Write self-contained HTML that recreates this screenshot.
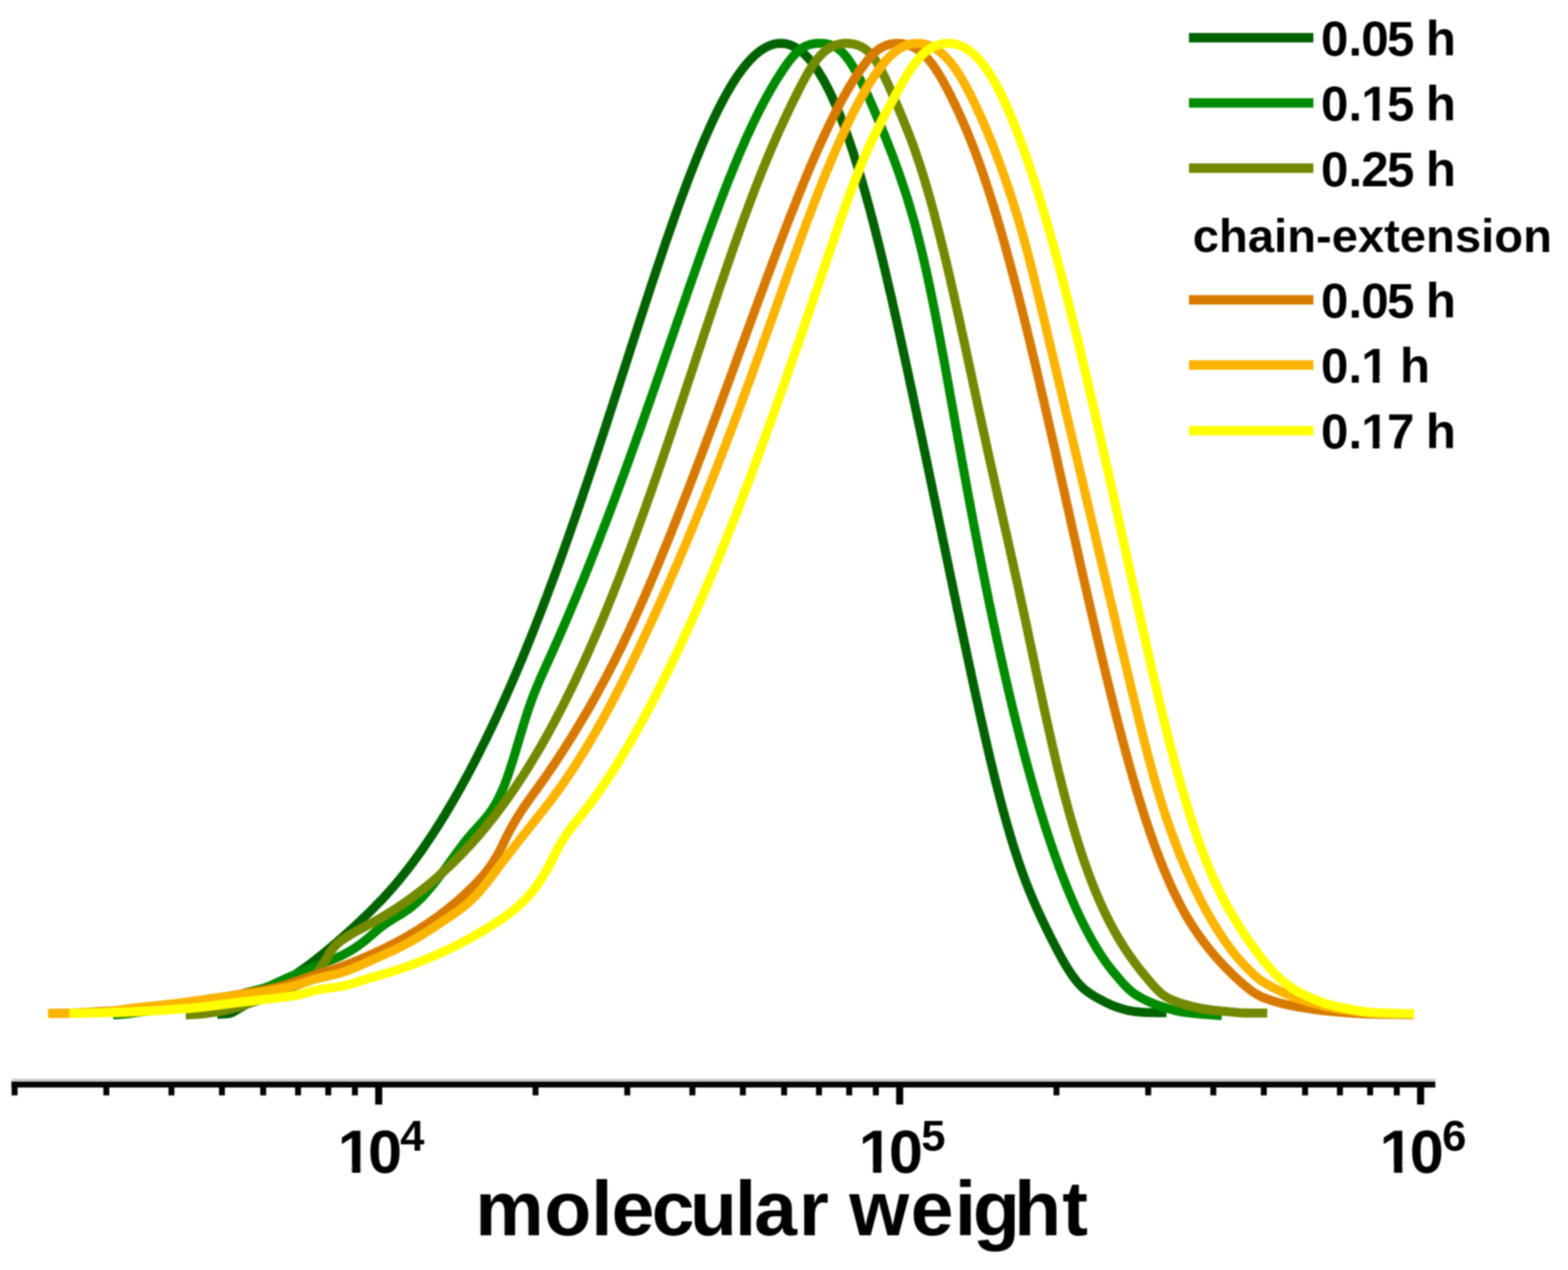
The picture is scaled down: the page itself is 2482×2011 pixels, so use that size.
<!DOCTYPE html>
<html lang="en"><head><meta charset="utf-8"><title>molecular weight distribution</title>
<style>html,body{margin:0;padding:0;background:#fff}body{width:2482px;height:2011px;overflow:hidden}svg{display:block}text{font-family:"Liberation Sans",sans-serif;font-weight:bold;fill:#000}.c{fill:none;stroke-linejoin:round;stroke-linecap:butt;stroke-width:14.3}</style></head><body>
<svg width="2482" height="2011" viewBox="0 0 2482 2011">
<defs><filter id="b" x="-5%" y="-5%" width="110%" height="110%"><feGaussianBlur stdDeviation="1.0"/></filter></defs>
<rect width="2482" height="2011" fill="#fff"/>
<g filter="url(#b)">
<path class="c" stroke="#006400" d="M344 1606L349 1605.9L354 1605.7L359 1605.3L363.9 1604.7L368.6 1602.8L372.9 1600.3L377.1 1597.7L381.5 1595.2L385.8 1592.7L390.1 1590.1L394.4 1587.5L398.6 1584.9L402.8 1582.2L407.1 1579.5L411.3 1576.8L415.5 1574.1L419.7 1571.4L423.9 1568.7L428.1 1566.1L432.4 1563.5L436.7 1560.9L441 1558.4L445.4 1556L449.8 1553.5L454.1 1551.1L458.4 1548.5L462.7 1545.9L466.9 1543.3L471.1 1540.5L475.2 1537.7L479.3 1534.8L483.3 1531.9L487.4 1528.9L491.4 1525.9L495.3 1522.9L499.3 1519.8L503.2 1516.7L507.1 1513.6L511 1510.5L514.9 1507.3L518.8 1504.1L522.6 1500.9L526.4 1497.7L530.2 1494.5L534 1491.2L537.8 1487.9L541.6 1484.6L545.3 1481.3L549.1 1478L552.8 1474.7L556.5 1471.3L560.2 1467.9L563.8 1464.5L567.5 1461.1L571.1 1457.7L574.7 1454.2L578.3 1450.8L581.9 1447.3L585.5 1443.8L589 1440.2L592.5 1436.7L596 1433.1L599.5 1429.5L603 1425.9L606.4 1422.3L609.8 1418.6L613.2 1414.9L616.5 1411.2L619.8 1407.4L623.1 1403.7L626.4 1399.9L629.6 1396.1L632.8 1392.2L636 1388.3L639.1 1384.4L642.2 1380.5L645.3 1376.6L648.3 1372.6L651.4 1368.6L654.4 1364.6L657.3 1360.6L660.3 1356.6L663.2 1352.5L666.1 1348.5L669 1344.4L671.8 1340.3L674.6 1336.1L677.4 1332L680.2 1327.8L683 1323.7L685.7 1319.5L688.4 1315.3L691.1 1311.1L693.8 1306.9L696.5 1302.6L699.1 1298.4L701.8 1294.1L704.4 1289.9L706.9 1285.6L709.5 1281.3L712.1 1277L714.6 1272.7L717.1 1268.4L719.6 1264L722.1 1259.7L724.6 1255.3L727 1251L729.5 1246.6L731.9 1242.3L734.3 1237.9L736.7 1233.5L739.1 1229.1L741.4 1224.7L743.8 1220.3L746.1 1215.8L748.5 1211.4L750.8 1207L753.1 1202.5L755.3 1198.1L757.6 1193.6L759.9 1189.2L762.1 1184.7L764.3 1180.2L766.6 1175.7L768.8 1171.3L771 1166.8L773.1 1162.3L775.3 1157.8L777.5 1153.3L779.6 1148.7L781.7 1144.2L783.9 1139.7L786 1135.2L788.1 1130.6L790.2 1126.1L792.3 1121.5L794.3 1117L796.4 1112.4L798.4 1107.9L800.5 1103.3L802.5 1098.7L804.5 1094.2L806.5 1089.6L808.5 1085L810.5 1080.4L812.5 1075.8L814.5 1071.2L816.5 1066.6L818.4 1062L820.4 1057.4L822.3 1052.8L824.2 1048.2L826.2 1043.6L828.1 1039L830 1034.3L831.9 1029.7L833.8 1025.1L835.6 1020.5L837.5 1015.8L839.4 1011.2L841.2 1006.5L843.1 1001.9L844.9 997.3L846.8 992.6L848.6 988L850.4 983.3L852.3 978.6L854.1 974L855.9 969.3L857.7 964.6L859.5 960L861.2 955.3L863 950.6L864.8 946L866.6 941.3L868.3 936.6L870.1 931.9L871.8 927.2L873.6 922.5L875.3 917.9L877 913.2L878.8 908.5L880.5 903.8L882.2 899.1L883.9 894.4L885.6 889.7L887.3 885L889 880.3L890.7 875.6L892.4 870.9L894 866.2L895.7 861.4L897.4 856.7L899.1 852L900.7 847.3L902.4 842.6L904 837.9L905.7 833.1L907.3 828.4L909 823.7L910.6 819L912.2 814.2L913.8 809.5L915.5 804.8L917.1 800.1L918.7 795.3L920.3 790.6L921.9 785.9L923.5 781.1L925.1 776.4L926.7 771.7L928.3 766.9L929.9 762.2L931.5 757.4L933.1 752.7L934.7 747.9L936.3 743.2L937.8 738.5L939.4 733.7L941 729L942.6 724.2L944.1 719.5L945.7 714.7L947.3 710L948.8 705.2L950.4 700.5L951.9 695.7L953.5 691L955.1 686.2L956.6 681.5L958.2 676.7L959.7 672L961.3 667.2L962.8 662.5L964.3 657.7L965.9 652.9L967.4 648.2L969 643.4L970.5 638.7L972 633.9L973.6 629.2L975.1 624.4L976.7 619.6L978.2 614.9L979.7 610.1L981.3 605.4L982.8 600.6L984.3 595.8L985.9 591.1L987.4 586.3L988.9 581.6L990.5 576.8L992 572L993.5 567.3L995 562.5L996.6 557.8L998.1 553L999.6 548.2L1001.2 543.5L1002.7 538.7L1004.3 534L1005.8 529.2L1007.3 524.5L1008.9 519.7L1010.4 514.9L1011.9 510.2L1013.5 505.4L1015 500.7L1016.6 495.9L1018.1 491.2L1019.7 486.4L1021.2 481.7L1022.8 476.9L1024.3 472.2L1025.9 467.4L1027.4 462.6L1029 457.9L1030.6 453.1L1032.1 448.4L1033.7 443.7L1035.3 438.9L1036.8 434.2L1038.4 429.4L1040 424.7L1041.6 419.9L1043.2 415.2L1044.8 410.5L1046.4 405.7L1048 401L1049.6 396.2L1051.2 391.5L1052.8 386.8L1054.4 382L1056 377.3L1057.7 372.6L1059.3 367.9L1061 363.1L1062.6 358.4L1064.3 353.7L1065.9 349L1067.6 344.3L1069.2 339.6L1070.9 334.8L1072.6 330.1L1074.3 325.4L1076 320.7L1077.7 316L1079.4 311.3L1081.2 306.6L1082.9 302L1084.6 297.3L1086.4 292.6L1088.2 287.9L1089.9 283.2L1091.7 278.6L1093.5 273.9L1095.3 269.2L1097.1 264.6L1099 259.9L1100.8 255.3L1102.7 250.6L1104.6 246L1106.5 241.4L1108.4 236.8L1110.3 232.1L1112.2 227.5L1114.2 222.9L1116.1 218.3L1118.1 213.8L1120.2 209.2L1122.2 204.6L1124.2 200.1L1126.3 195.5L1128.4 191L1130.6 186.4L1132.7 181.9L1134.9 177.4L1137.1 173L1139.4 168.5L1141.7 164L1144 159.6L1146.3 155.2L1148.7 150.8L1151.2 146.5L1153.7 142.1L1156.2 137.8L1158.8 133.5L1161.4 129.3L1164.1 125.1L1166.9 120.9L1169.8 116.8L1172.7 112.8L1175.7 108.8L1178.8 104.8L1182 101L1185.3 97.2L1188.7 93.6L1192.2 90L1195.9 86.6L1199.7 83.4L1203.7 80.4L1207.8 77.6L1212.1 75.1L1216.6 72.9L1221.3 71.1L1226.1 69.7L1231 68.9L1236 68.6L1241 68.9L1245.9 69.8L1250.7 71.2L1255.3 73.1L1259.8 75.4L1264 78.1L1268 81.1L1271.8 84.4L1275.4 87.8L1278.9 91.4L1282.2 95.2L1285.3 99L1288.4 103L1291.3 107.1L1294.1 111.2L1296.8 115.4L1299.4 119.7L1302 124L1304.4 128.3L1306.8 132.7L1309.1 137.2L1311.4 141.6L1313.6 146.1L1315.7 150.6L1317.8 155.1L1319.9 159.7L1321.9 164.3L1323.9 168.9L1325.8 173.5L1327.7 178.1L1329.6 182.8L1331.4 187.4L1333.2 192.1L1335 196.7L1336.7 201.4L1338.4 206.1L1340.1 210.8L1341.8 215.6L1343.4 220.3L1345 225L1346.6 229.7L1348.2 234.5L1349.8 239.2L1351.3 244L1352.8 248.8L1354.3 253.5L1355.8 258.3L1357.3 263.1L1358.7 267.9L1360.2 272.7L1361.6 277.5L1363 282.3L1364.4 287.1L1365.8 291.9L1367.2 296.7L1368.5 301.5L1369.9 306.3L1371.2 311.1L1372.5 315.9L1373.9 320.8L1375.2 325.6L1376.5 330.4L1377.8 335.2L1379 340.1L1380.3 344.9L1381.6 349.7L1382.8 354.6L1384.1 359.4L1385.3 364.3L1386.5 369.1L1387.7 374L1389 378.8L1390.2 383.7L1391.4 388.5L1392.6 393.4L1393.8 398.2L1394.9 403.1L1396.1 408L1397.3 412.8L1398.5 417.7L1399.6 422.5L1400.8 427.4L1401.9 432.3L1403.1 437.1L1404.2 442L1405.3 446.9L1406.5 451.7L1407.6 456.6L1408.7 461.5L1409.9 466.4L1411 471.2L1412.1 476.1L1413.2 481L1414.3 485.9L1415.4 490.7L1416.5 495.6L1417.6 500.5L1418.7 505.4L1419.8 510.3L1420.8 515.1L1421.9 520L1423 524.9L1424.1 529.8L1425.2 534.7L1426.2 539.5L1427.3 544.4L1428.4 549.3L1429.4 554.2L1430.5 559.1L1431.6 564L1432.6 568.9L1433.7 573.7L1434.7 578.6L1435.8 583.5L1436.8 588.4L1437.9 593.3L1438.9 598.2L1440 603.1L1441 608L1442.1 612.9L1443.1 617.7L1444.2 622.6L1445.2 627.5L1446.2 632.4L1447.3 637.3L1448.3 642.2L1449.3 647.1L1450.4 652L1451.4 656.9L1452.4 661.8L1453.5 666.7L1454.5 671.6L1455.5 676.4L1456.6 681.3L1457.6 686.2L1458.6 691.1L1459.7 696L1460.7 700.9L1461.7 705.8L1462.7 710.7L1463.8 715.6L1464.8 720.5L1465.8 725.4L1466.8 730.3L1467.8 735.2L1468.9 740.1L1469.9 745L1470.9 749.9L1471.9 754.8L1472.9 759.6L1474 764.5L1475 769.4L1476 774.3L1477 779.2L1478 784.1L1479 789L1480.1 793.9L1481.1 798.8L1482.1 803.7L1483.1 808.6L1484.1 813.5L1485.1 818.4L1486.1 823.3L1487.2 828.2L1488.2 833.1L1489.2 838L1490.2 842.9L1491.2 847.8L1492.2 852.7L1493.2 857.6L1494.3 862.5L1495.3 867.4L1496.3 872.2L1497.3 877.1L1498.3 882L1499.3 886.9L1500.4 891.8L1501.4 896.7L1502.4 901.6L1503.4 906.5L1504.4 911.4L1505.4 916.3L1506.5 921.2L1507.5 926.1L1508.5 931L1509.5 935.9L1510.5 940.8L1511.6 945.7L1512.6 950.6L1513.6 955.5L1514.6 960.4L1515.6 965.3L1516.7 970.2L1517.7 975L1518.7 979.9L1519.8 984.8L1520.8 989.7L1521.8 994.6L1522.8 999.5L1523.9 1004.4L1524.9 1009.3L1525.9 1014.2L1527 1019.1L1528 1024L1529.1 1028.9L1530.1 1033.7L1531.1 1038.6L1532.2 1043.5L1533.2 1048.4L1534.3 1053.3L1535.3 1058.2L1536.4 1063.1L1537.4 1068L1538.5 1072.9L1539.5 1077.7L1540.6 1082.6L1541.7 1087.5L1542.7 1092.4L1543.8 1097.3L1544.8 1102.2L1545.9 1107.1L1547 1111.9L1548.1 1116.8L1549.1 1121.7L1550.2 1126.6L1551.3 1131.5L1552.4 1136.4L1553.5 1141.2L1554.6 1146.1L1555.7 1151L1556.8 1155.9L1557.9 1160.7L1559 1165.6L1560.1 1170.5L1561.2 1175.4L1562.3 1180.2L1563.5 1185.1L1564.6 1190L1565.8 1194.8L1566.9 1199.7L1568.1 1204.6L1569.2 1209.4L1570.4 1214.3L1571.6 1219.2L1572.7 1224L1573.9 1228.9L1575.1 1233.7L1576.3 1238.6L1577.6 1243.4L1578.8 1248.3L1580 1253.1L1581.3 1258L1582.5 1262.8L1583.8 1267.6L1585.1 1272.5L1586.3 1277.3L1587.6 1282.1L1589 1287L1590.3 1291.8L1591.6 1296.6L1593 1301.4L1594.3 1306.2L1595.7 1311L1597.1 1315.8L1598.5 1320.6L1599.9 1325.4L1601.4 1330.2L1602.8 1335L1604.3 1339.8L1605.8 1344.5L1607.3 1349.3L1608.9 1354.1L1610.4 1358.8L1612 1363.6L1613.6 1368.3L1615.3 1373L1616.9 1377.7L1618.6 1382.4L1620.3 1387.1L1622 1391.8L1623.8 1396.5L1625.6 1401.2L1627.5 1405.8L1629.3 1410.5L1631.2 1415.1L1633.2 1419.7L1635.1 1424.3L1637.1 1428.9L1639.1 1433.5L1641.1 1438L1643.2 1442.6L1645.3 1447.1L1647.4 1451.7L1649.5 1456.2L1651.7 1460.7L1653.8 1465.2L1656 1469.7L1658.2 1474.2L1660.4 1478.7L1662.7 1483.2L1664.9 1487.6L1667.2 1492.1L1669.5 1496.5L1671.8 1501L1674.1 1505.4L1676.4 1509.8L1678.8 1514.2L1681.2 1518.6L1683.7 1522.9L1686.2 1527.3L1688.8 1531.5L1691.5 1535.8L1694.2 1540L1697 1544.1L1700 1548.1L1703 1552.1L1706.2 1556L1709.5 1559.7L1713 1563.3L1716.7 1566.6L1720.6 1569.7L1724.7 1572.6L1728.9 1575.4L1733.1 1578L1737.5 1580.5L1741.9 1582.9L1746.3 1585.2L1750.7 1587.5L1755.2 1589.6L1759.8 1591.7L1764.4 1593.5L1769.2 1595.1L1773.9 1596.7L1778.7 1598.1L1783.6 1599.4L1788.4 1600.4L1793.4 1601.3L1798.3 1601.8L1803.3 1602.4L1808.3 1602.8L1813.3 1603.2L1818.3 1603.4L1823.3 1603.4L1828.3 1603.4L1833.3 1603.5L1838.3 1603.5L1843.3 1603.5L1846.5 1603.5"/>
<path class="c" stroke="#008B00" d="M179 1607L184 1606.8L189 1606.4L194 1606.1L199 1605.6L203.9 1605.1L208.9 1604.4L213.8 1603.7L218.8 1603L223.7 1602.3L228.7 1601.7L233.7 1601.1L238.6 1600.5L243.6 1600L248.6 1599.5L253.5 1599.1L258.5 1598.6L263.5 1598.1L268.5 1597.7L273.5 1597.2L278.4 1596.7L283.4 1596.1L288.4 1595.6L293.3 1594.9L298.3 1594.2L303.2 1593.5L308.2 1592.7L313.1 1591.7L318 1590.7L322.8 1589.6L327.7 1588.5L332.6 1587.3L337.4 1586.1L342.3 1584.9L347.1 1583.7L352 1582.5L356.8 1581.2L361.6 1579.9L366.5 1578.5L371.3 1577.2L376.1 1575.8L380.9 1574.4L385.7 1573L390.5 1571.7L395.3 1570.4L400.2 1569.2L405 1568L409.9 1566.8L414.7 1565.5L419.5 1564L424.2 1562.3L428.8 1560.4L433.4 1558.3L437.9 1556.2L442.4 1554.1L447 1552L451.5 1549.9L456.1 1547.9L460.7 1545.9L465.3 1544L469.9 1542.2L474.6 1540.3L479.2 1538.4L483.9 1536.6L488.5 1534.8L493.2 1532.9L497.8 1531.1L502.5 1529.2L507.1 1527.4L511.8 1525.6L516.4 1523.7L521.1 1521.8L525.7 1519.9L530.3 1517.9L534.8 1515.9L539.4 1513.8L543.8 1511.5L548.3 1509.2L552.6 1506.8L556.9 1504.2L561.1 1501.6L565.3 1498.8L569.4 1495.9L573.4 1492.9L577.3 1489.8L581.2 1486.6L585 1483.4L588.8 1480.1L592.5 1476.8L596.3 1473.5L600.1 1470.3L604.1 1467.3L608.1 1464.3L612.2 1461.5L616.4 1458.8L620.7 1456.1L624.9 1453.5L629.2 1450.9L633.5 1448.3L637.7 1445.7L641.9 1443L646 1440.1L650.1 1437.1L654 1434L657.7 1430.7L661.4 1427.3L665 1423.9L668.5 1420.3L671.9 1416.6L675.3 1412.9L678.5 1409.1L681.8 1405.3L684.9 1401.5L688.1 1397.6L691.1 1393.6L694.2 1389.6L697.2 1385.7L700.2 1381.6L703.1 1377.6L706.1 1373.6L709 1369.5L712 1365.5L714.9 1361.4L717.8 1357.4L720.7 1353.3L723.7 1349.3L726.7 1345.3L729.7 1341.3L732.7 1337.3L735.7 1333.3L738.9 1329.4L742 1325.6L745.3 1321.8L748.6 1318L752 1314.3L755.3 1310.6L758.7 1306.9L762.1 1303.2L765.3 1299.5L768.6 1295.6L771.7 1291.7L774.7 1287.7L777.6 1283.6L780.3 1279.5L783 1275.2L785.5 1270.9L787.9 1266.5L790.1 1262L792.3 1257.5L794.3 1253L796.3 1248.4L798.2 1243.7L800 1239.1L801.7 1234.4L803.4 1229.7L805 1224.9L806.6 1220.2L808.1 1215.4L809.7 1210.7L811.2 1205.9L812.7 1201.1L814.1 1196.4L815.6 1191.6L817 1186.8L818.4 1182L819.9 1177.2L821.3 1172.4L822.7 1167.6L824.1 1162.8L825.6 1158L827 1153.2L828.4 1148.5L829.9 1143.7L831.4 1138.9L832.9 1134.1L834.4 1129.4L836 1124.6L837.6 1119.9L839.2 1115.2L840.9 1110.5L842.6 1105.8L844.4 1101.1L846.2 1096.4L848.1 1091.8L850 1087.1L851.9 1082.5L853.8 1077.9L855.8 1073.3L857.9 1068.8L859.9 1064.2L862 1059.7L864 1055.1L866.1 1050.6L868.2 1046L870.2 1041.4L872.3 1036.9L874.3 1032.3L876.4 1027.8L878.4 1023.2L880.4 1018.6L882.5 1014.1L884.5 1009.5L886.5 1004.9L888.5 1000.3L890.5 995.7L892.5 991.1L894.4 986.6L896.4 982L898.4 977.4L900.3 972.8L902.3 968.2L904.2 963.6L906.2 958.9L908.1 954.3L910 949.7L912 945.1L913.9 940.5L915.8 935.9L917.7 931.2L919.6 926.6L921.5 922L923.4 917.4L925.3 912.7L927.1 908.1L929 903.5L930.9 898.8L932.7 894.2L934.6 889.5L936.4 884.9L938.3 880.2L940.1 875.6L941.9 870.9L943.8 866.3L945.6 861.6L947.4 857L949.2 852.3L951 847.6L952.8 843L954.6 838.3L956.4 833.6L958.2 829L960 824.3L961.8 819.6L963.6 815L965.3 810.3L967.1 805.6L968.9 800.9L970.6 796.2L972.4 791.6L974.1 786.9L975.9 782.2L977.6 777.5L979.3 772.8L981.1 768.1L982.8 763.4L984.5 758.7L986.3 754.1L988 749.4L989.7 744.7L991.4 740L993.1 735.3L994.8 730.6L996.5 725.9L998.2 721.2L999.9 716.5L1001.6 711.8L1003.3 707L1005 702.3L1006.7 697.6L1008.3 692.9L1010 688.2L1011.7 683.5L1013.4 678.8L1015 674.1L1016.7 669.4L1018.4 664.6L1020 659.9L1021.7 655.2L1023.3 650.5L1025 645.8L1026.6 641.1L1028.3 636.3L1029.9 631.6L1031.6 626.9L1033.2 622.2L1034.9 617.4L1036.5 612.7L1038.2 608L1039.8 603.3L1041.4 598.6L1043.1 593.8L1044.7 589.1L1046.3 584.4L1048 579.7L1049.6 574.9L1051.2 570.2L1052.9 565.5L1054.5 560.8L1056.1 556L1057.8 551.3L1059.4 546.6L1061 541.8L1062.7 537.1L1064.3 532.4L1065.9 527.7L1067.6 522.9L1069.2 518.2L1070.8 513.5L1072.5 508.8L1074.1 504L1075.7 499.3L1077.4 494.6L1079 489.9L1080.6 485.1L1082.3 480.4L1083.9 475.7L1085.6 471L1087.2 466.2L1088.8 461.5L1090.5 456.8L1092.1 452.1L1093.8 447.4L1095.4 442.6L1097.1 437.9L1098.8 433.2L1100.4 428.5L1102.1 423.8L1103.7 419.1L1105.4 414.4L1107.1 409.6L1108.8 404.9L1110.4 400.2L1112.1 395.5L1113.8 390.8L1115.5 386.1L1117.2 381.4L1118.9 376.7L1120.6 372L1122.3 367.3L1124 362.6L1125.8 357.9L1127.5 353.2L1129.2 348.5L1131 343.8L1132.7 339.2L1134.5 334.5L1136.2 329.8L1138 325.1L1139.8 320.4L1141.5 315.8L1143.3 311.1L1145.1 306.4L1146.9 301.8L1148.7 297.1L1150.6 292.5L1152.4 287.8L1154.2 283.2L1156.1 278.5L1158 273.9L1159.8 269.2L1161.7 264.6L1163.6 260L1165.5 255.4L1167.5 250.7L1169.4 246.1L1171.3 241.5L1173.3 236.9L1175.3 232.3L1177.3 227.8L1179.3 223.2L1181.3 218.6L1183.4 214.1L1185.5 209.5L1187.6 205L1189.7 200.4L1191.8 195.9L1194 191.4L1196.2 186.9L1198.4 182.4L1200.6 177.9L1202.9 173.5L1205.2 169.1L1207.5 164.6L1209.8 160.2L1212.2 155.8L1214.6 151.4L1217.1 147.1L1219.5 142.7L1222 138.4L1224.6 134.1L1227.1 129.8L1229.7 125.5L1232.4 121.3L1235.1 117.1L1237.8 112.9L1240.6 108.7L1243.4 104.6L1246.3 100.5L1249.3 96.5L1252.4 92.6L1255.6 88.8L1259 85.1L1262.6 81.6L1266.4 78.4L1270.5 75.5L1274.9 73.1L1279.5 71.3L1284.4 69.9L1289.3 69.1L1294.3 68.7L1299.3 68.6L1304.2 68.9L1309.2 69.6L1314.1 70.8L1318.8 72.5L1323.2 74.8L1327.3 77.6L1331.2 80.8L1334.7 84.3L1338.1 88L1341.2 92L1344.1 96L1346.9 100.2L1349.6 104.4L1352.1 108.7L1354.6 113L1357.1 117.4L1359.4 121.8L1361.7 126.2L1364 130.7L1366.1 135.2L1368.3 139.7L1370.4 144.2L1372.5 148.8L1374.6 153.3L1376.6 157.9L1378.6 162.5L1380.6 167.1L1382.6 171.7L1384.5 176.3L1386.5 180.9L1388.4 185.5L1390.3 190.1L1392.3 194.7L1394.2 199.3L1396.1 203.9L1397.9 208.6L1399.8 213.2L1401.7 217.9L1403.5 222.5L1405.4 227.2L1407.2 231.8L1409 236.5L1410.8 241.1L1412.6 245.8L1414.3 250.5L1416.1 255.2L1417.8 259.9L1419.5 264.6L1421.2 269.3L1422.8 274L1424.5 278.7L1426.1 283.4L1427.7 288.2L1429.3 292.9L1430.9 297.7L1432.4 302.4L1434 307.2L1435.5 311.9L1437 316.7L1438.4 321.5L1439.9 326.3L1441.3 331.1L1442.7 335.9L1444.1 340.7L1445.5 345.5L1446.8 350.3L1448.2 355.1L1449.5 359.9L1450.8 364.8L1452 369.6L1453.3 374.5L1454.5 379.3L1455.7 384.1L1456.9 389L1458.1 393.9L1459.3 398.7L1460.4 403.6L1461.6 408.5L1462.7 413.3L1463.8 418.2L1464.9 423.1L1466 428L1467.1 432.8L1468.1 437.7L1469.2 442.6L1470.2 447.5L1471.3 452.4L1472.3 457.3L1473.3 462.2L1474.3 467.1L1475.3 472L1476.3 476.9L1477.3 481.8L1478.3 486.7L1479.3 491.6L1480.2 496.5L1481.2 501.4L1482.1 506.3L1483.1 511.2L1484 516.1L1485 521L1485.9 526L1486.8 530.9L1487.8 535.8L1488.7 540.7L1489.6 545.6L1490.5 550.5L1491.4 555.4L1492.3 560.4L1493.3 565.3L1494.2 570.2L1495.1 575.1L1496 580L1496.8 584.9L1497.7 589.9L1498.6 594.8L1499.5 599.7L1500.4 604.6L1501.3 609.5L1502.2 614.5L1503.1 619.4L1503.9 624.3L1504.8 629.2L1505.7 634.2L1506.6 639.1L1507.5 644L1508.3 648.9L1509.2 653.8L1510.1 658.8L1511 663.7L1511.8 668.6L1512.7 673.5L1513.6 678.5L1514.5 683.4L1515.4 688.3L1516.2 693.2L1517.1 698.1L1518 703.1L1518.9 708L1519.8 712.9L1520.7 717.8L1521.5 722.8L1522.4 727.7L1523.3 732.6L1524.2 737.5L1525.1 742.4L1526 747.3L1526.9 752.3L1527.8 757.2L1528.7 762.1L1529.6 767L1530.5 771.9L1531.4 776.9L1532.3 781.8L1533.2 786.7L1534.2 791.6L1535.1 796.5L1536 801.4L1536.9 806.4L1537.8 811.3L1538.7 816.2L1539.7 821.1L1540.6 826L1541.5 830.9L1542.5 835.8L1543.4 840.7L1544.3 845.7L1545.3 850.6L1546.2 855.5L1547.2 860.4L1548.1 865.3L1549.1 870.2L1550 875.1L1551 880L1552 884.9L1552.9 889.8L1553.9 894.7L1554.9 899.6L1555.8 904.5L1556.8 909.4L1557.8 914.4L1558.8 919.3L1559.7 924.2L1560.7 929.1L1561.7 934L1562.7 938.9L1563.7 943.8L1564.7 948.7L1565.7 953.6L1566.7 958.4L1567.8 963.3L1568.8 968.2L1569.8 973.1L1570.8 978L1571.8 982.9L1572.9 987.8L1573.9 992.7L1575 997.6L1576 1002.5L1577.1 1007.4L1578.1 1012.3L1579.2 1017.1L1580.2 1022L1581.3 1026.9L1582.4 1031.8L1583.4 1036.7L1584.5 1041.6L1585.6 1046.4L1586.7 1051.3L1587.8 1056.2L1588.9 1061.1L1590 1066L1591.1 1070.8L1592.2 1075.7L1593.4 1080.6L1594.5 1085.5L1595.6 1090.3L1596.7 1095.2L1597.9 1100.1L1599 1104.9L1600.2 1109.8L1601.4 1114.7L1602.5 1119.5L1603.7 1124.4L1604.9 1129.2L1606.1 1134.1L1607.3 1138.9L1608.5 1143.8L1609.7 1148.7L1610.9 1153.5L1612.1 1158.4L1613.3 1163.2L1614.5 1168L1615.8 1172.9L1617 1177.7L1618.3 1182.6L1619.6 1187.4L1620.8 1192.2L1622.1 1197.1L1623.4 1201.9L1624.7 1206.7L1626 1211.6L1627.3 1216.4L1628.6 1221.2L1630 1226L1631.3 1230.9L1632.6 1235.7L1634 1240.5L1635.4 1245.3L1636.7 1250.1L1638.1 1254.9L1639.5 1259.7L1640.9 1264.5L1642.4 1269.3L1643.8 1274.1L1645.2 1278.9L1646.7 1283.7L1648.1 1288.4L1649.6 1293.2L1651.1 1298L1652.6 1302.8L1654.1 1307.5L1655.6 1312.3L1657.2 1317L1658.7 1321.8L1660.3 1326.5L1661.9 1331.3L1663.5 1336L1665.1 1340.8L1666.7 1345.5L1668.3 1350.2L1670 1354.9L1671.7 1359.6L1673.4 1364.4L1675.1 1369L1676.8 1373.7L1678.5 1378.4L1680.3 1383.1L1682.1 1387.8L1683.9 1392.4L1685.7 1397.1L1687.6 1401.7L1689.4 1406.4L1691.3 1411L1693.2 1415.6L1695.2 1420.2L1697.1 1424.8L1699.1 1429.4L1701.1 1434L1703.2 1438.6L1705.3 1443.1L1707.4 1447.6L1709.5 1452.2L1711.7 1456.7L1713.9 1461.2L1716.1 1465.6L1718.4 1470.1L1720.7 1474.5L1723.1 1478.9L1725.4 1483.3L1727.9 1487.7L1730.4 1492L1732.9 1496.3L1735.4 1500.6L1738.1 1504.9L1740.7 1509.1L1743.5 1513.3L1746.2 1517.5L1749.1 1521.6L1752 1525.6L1755 1529.7L1758 1533.6L1761.1 1537.6L1764.3 1541.4L1767.5 1545.2L1770.8 1549L1774 1552.8L1777.3 1556.6L1780.7 1560.3L1784.2 1563.9L1787.8 1567.3L1791.6 1570.5L1795.6 1573.5L1799.8 1576.3L1804.1 1578.8L1808.5 1581.2L1813 1583.5L1817.5 1585.6L1822.1 1587.6L1826.7 1589.5L1831.4 1591.2L1836.1 1592.9L1840.9 1594.4L1845.7 1595.9L1850.4 1597.3L1855.3 1598.7L1860.1 1600L1864.9 1601.2L1869.8 1602.2L1874.8 1603L1879.7 1603.6L1884.7 1604.2L1889.7 1604.7L1894.6 1605.1L1899.6 1605.6L1904.6 1606L1909.6 1606.4L1914.6 1606.8L1919.6 1607.1L1924.6 1607.5L1929.5 1607.8L1934 1608.0"/>
<path class="c" stroke="#718A00" d="M294 1607L299 1606.9L304 1606.7L309 1606.4L314 1606L319 1605.6L323.9 1605.1L328.9 1604.5L333.8 1603.7L338.8 1602.9L343.7 1602.1L348.6 1601.1L353.5 1600.1L358.4 1599L363.2 1597.9L368.1 1596.7L372.9 1595.4L377.8 1594.1L382.6 1592.7L387.4 1591.3L392.1 1589.8L396.9 1588.3L401.6 1586.7L406.4 1585.1L411.1 1583.4L415.7 1581.6L420.4 1579.8L425.1 1578L429.7 1576.2L434.4 1574.3L439 1572.5L443.6 1570.6L448.3 1568.7L452.9 1566.8L457.6 1565.1L462.3 1563.3L467 1561.6L471.7 1559.8L476.3 1558L480.9 1556L485.4 1553.9L489.8 1551.4L494 1548.7L497.8 1545.5L501.2 1541.9L504.4 1538L507.2 1533.9L510 1529.7L512.5 1525.4L515 1521.1L517.5 1516.7L520.1 1512.4L522.7 1508.2L525.5 1504L528.6 1500.1L532 1496.5L535.7 1493.1L539.6 1490L543.7 1487.1L547.9 1484.3L552.1 1481.7L556.4 1479.1L560.7 1476.6L565.1 1474.1L569.5 1471.8L573.9 1469.4L578.3 1467.1L582.7 1464.7L587.1 1462.3L591.5 1459.9L595.8 1457.4L600.1 1454.9L604.4 1452.4L608.7 1449.8L613 1447.2L617.3 1444.6L621.5 1441.9L625.7 1439.2L629.9 1436.4L634 1433.7L638.2 1430.9L642.3 1428L646.4 1425.1L650.4 1422.2L654.5 1419.3L658.5 1416.3L662.5 1413.3L666.5 1410.3L670.4 1407.2L674.3 1404.1L678.2 1400.9L682.1 1397.7L685.9 1394.5L689.7 1391.3L693.5 1388L697.2 1384.7L700.9 1381.4L704.6 1378L708.3 1374.6L712 1371.2L715.6 1367.7L719.1 1364.2L722.7 1360.7L726.2 1357.2L729.7 1353.6L733.2 1350L736.6 1346.4L740.1 1342.7L743.4 1339L746.8 1335.3L750.1 1331.6L753.5 1327.9L756.7 1324.1L760 1320.3L763.2 1316.5L766.4 1312.6L769.6 1308.8L772.7 1304.9L775.9 1301L779 1297.1L782.1 1293.1L785.1 1289.2L788.1 1285.2L791.1 1281.2L794.1 1277.2L797.1 1273.2L800 1269.1L802.9 1265L805.8 1261L808.7 1256.9L811.5 1252.7L814.3 1248.6L817.1 1244.5L819.9 1240.3L822.6 1236.1L825.4 1232L828.1 1227.8L830.8 1223.5L833.5 1219.3L836.1 1215.1L838.8 1210.8L841.4 1206.6L844 1202.3L846.5 1198L849.1 1193.7L851.6 1189.4L854.2 1185.1L856.7 1180.8L859.1 1176.4L861.6 1172.1L864.1 1167.7L866.5 1163.4L868.9 1159L871.3 1154.6L873.7 1150.2L876.1 1145.8L878.4 1141.4L880.8 1137L883.1 1132.5L885.4 1128.1L887.7 1123.7L890 1119.2L892.3 1114.8L894.5 1110.3L896.8 1105.8L899 1101.3L901.2 1096.9L903.4 1092.4L905.6 1087.9L907.8 1083.4L909.9 1078.9L912.1 1074.4L914.2 1069.8L916.3 1065.3L918.4 1060.8L920.5 1056.2L922.6 1051.7L924.7 1047.1L926.8 1042.6L928.8 1038L930.9 1033.5L932.9 1028.9L934.9 1024.3L937 1019.8L939 1015.2L941 1010.6L942.9 1006L944.9 1001.4L946.9 996.8L948.8 992.2L950.8 987.6L952.7 983L954.7 978.4L956.6 973.8L958.5 969.1L960.4 964.5L962.3 959.9L964.2 955.3L966 950.6L967.9 946L969.8 941.4L971.6 936.7L973.5 932.1L975.3 927.4L977.1 922.8L979 918.1L980.8 913.5L982.6 908.8L984.4 904.1L986.2 899.5L988 894.8L989.8 890.1L991.6 885.4L993.3 880.8L995.1 876.1L996.8 871.4L998.6 866.7L1000.3 862L1002.1 857.4L1003.8 852.7L1005.6 848L1007.3 843.3L1009 838.6L1010.7 833.9L1012.4 829.2L1014.1 824.5L1015.8 819.8L1017.5 815.1L1019.2 810.4L1020.9 805.7L1022.6 801L1024.3 796.3L1025.9 791.5L1027.6 786.8L1029.3 782.1L1030.9 777.4L1032.6 772.7L1034.2 768L1035.9 763.2L1037.5 758.5L1039.2 753.8L1040.8 749.1L1042.4 744.3L1044.1 739.6L1045.7 734.9L1047.3 730.2L1048.9 725.4L1050.6 720.7L1052.2 716L1053.8 711.2L1055.4 706.5L1057 701.8L1058.6 697L1060.2 692.3L1061.8 687.6L1063.4 682.8L1065 678.1L1066.6 673.4L1068.2 668.6L1069.8 663.9L1071.4 659.1L1073 654.4L1074.6 649.7L1076.2 644.9L1077.7 640.2L1079.3 635.4L1080.9 630.7L1082.5 625.9L1084.1 621.2L1085.6 616.5L1087.2 611.7L1088.8 607L1090.4 602.2L1092 597.5L1093.5 592.7L1095.1 588L1096.7 583.2L1098.3 578.5L1099.8 573.7L1101.4 569L1103 564.3L1104.5 559.5L1106.1 554.8L1107.7 550L1109.3 545.3L1110.8 540.5L1112.4 535.8L1114 531L1115.6 526.3L1117.2 521.5L1118.7 516.8L1120.3 512.1L1121.9 507.3L1123.5 502.6L1125.1 497.8L1126.7 493.1L1128.2 488.3L1129.8 483.6L1131.4 478.9L1133 474.1L1134.6 469.4L1136.2 464.7L1137.8 459.9L1139.4 455.2L1141 450.4L1142.6 445.7L1144.3 441L1145.9 436.2L1147.5 431.5L1149.1 426.8L1150.7 422.1L1152.4 417.3L1154 412.6L1155.6 407.9L1157.3 403.2L1158.9 398.4L1160.6 393.7L1162.2 389L1163.9 384.3L1165.6 379.6L1167.2 374.9L1168.9 370.2L1170.6 365.4L1172.3 360.7L1174 356L1175.7 351.3L1177.4 346.6L1179.1 341.9L1180.8 337.2L1182.6 332.6L1184.3 327.9L1186 323.2L1187.8 318.5L1189.6 313.8L1191.3 309.1L1193.1 304.5L1194.9 299.8L1196.7 295.1L1198.5 290.5L1200.3 285.8L1202.2 281.2L1204 276.5L1205.9 271.9L1207.7 267.2L1209.6 262.6L1211.5 258L1213.4 253.4L1215.3 248.7L1217.3 244.1L1219.2 239.5L1221.2 234.9L1223.2 230.3L1225.2 225.8L1227.2 221.2L1229.2 216.6L1231.3 212.1L1233.3 207.5L1235.4 202.9L1237.5 198.4L1239.6 193.9L1241.7 189.3L1243.8 184.8L1245.9 180.3L1248.1 175.7L1250.2 171.2L1252.4 166.7L1254.6 162.2L1256.8 157.7L1259 153.3L1261.2 148.8L1263.5 144.3L1265.7 139.9L1268 135.4L1270.3 131L1272.7 126.6L1275.1 122.2L1277.6 117.8L1280.1 113.5L1282.7 109.3L1285.4 105.1L1288.2 100.9L1291.1 96.9L1294.2 92.9L1297.5 89.1L1300.9 85.5L1304.6 82.1L1308.5 79L1312.6 76.2L1317 73.8L1321.6 71.8L1326.4 70.3L1331.2 69.3L1336.2 68.7L1341.2 68.6L1346.2 69L1351.1 69.8L1356 71L1360.7 72.7L1365.2 74.9L1369.4 77.6L1373.3 80.6L1376.9 84.1L1380.3 87.8L1383.3 91.8L1386.2 95.9L1388.9 100.1L1391.4 104.4L1393.8 108.8L1396.1 113.2L1398.4 117.7L1400.5 122.2L1402.6 126.7L1404.7 131.3L1406.8 135.8L1408.8 140.4L1410.8 145L1412.8 149.6L1414.7 154.2L1416.7 158.8L1418.7 163.4L1420.6 168L1422.6 172.6L1424.5 177.2L1426.4 181.8L1428.4 186.4L1430.2 191.1L1432.1 195.7L1434 200.3L1435.8 205L1437.7 209.6L1439.5 214.3L1441.3 219L1443 223.6L1444.7 228.3L1446.5 233L1448.1 237.7L1449.8 242.5L1451.4 247.2L1453 251.9L1454.6 256.7L1456.2 261.4L1457.7 266.2L1459.2 270.9L1460.7 275.7L1462.2 280.5L1463.6 285.3L1465 290.1L1466.5 294.9L1467.9 299.7L1469.3 304.5L1470.6 309.3L1472 314.1L1473.3 318.9L1474.7 323.7L1476 328.5L1477.3 333.4L1478.6 338.2L1479.9 343L1481.1 347.9L1482.4 352.7L1483.6 357.6L1484.9 362.4L1486.1 367.2L1487.3 372.1L1488.5 376.9L1489.7 381.8L1490.9 386.6L1492.1 391.5L1493.3 396.4L1494.5 401.2L1495.7 406.1L1496.8 410.9L1498 415.8L1499.1 420.7L1500.3 425.5L1501.4 430.4L1502.6 435.3L1503.7 440.2L1504.8 445L1505.9 449.9L1507 454.8L1508.1 459.6L1509.2 464.5L1510.4 469.4L1511.4 474.3L1512.5 479.2L1513.6 484L1514.7 488.9L1515.8 493.8L1516.9 498.7L1518 503.6L1519 508.4L1520.1 513.3L1521.2 518.2L1522.2 523.1L1523.3 528L1524.4 532.9L1525.4 537.8L1526.5 542.6L1527.6 547.5L1528.6 552.4L1529.7 557.3L1530.7 562.2L1531.8 567.1L1532.8 572L1533.9 576.9L1534.9 581.7L1536 586.6L1537 591.5L1538.1 596.4L1539.1 601.3L1540.2 606.2L1541.2 611.1L1542.3 616L1543.3 620.8L1544.4 625.7L1545.4 630.6L1546.5 635.5L1547.5 640.4L1548.6 645.3L1549.6 650.2L1550.7 655.1L1551.8 660L1552.8 664.8L1553.9 669.7L1554.9 674.6L1556 679.5L1557.1 684.4L1558.1 689.3L1559.2 694.2L1560.3 699L1561.3 703.9L1562.4 708.8L1563.5 713.7L1564.6 718.6L1565.7 723.5L1566.7 728.3L1567.8 733.2L1568.9 738.1L1570 743L1571.1 747.9L1572.2 752.7L1573.3 757.6L1574.4 762.5L1575.4 767.4L1576.5 772.2L1577.6 777.1L1578.7 782L1579.8 786.9L1580.9 791.8L1582 796.6L1583.1 801.5L1584.2 806.4L1585.3 811.3L1586.4 816.2L1587.5 821L1588.6 825.9L1589.7 830.8L1590.8 835.7L1591.9 840.5L1593 845.4L1594.1 850.3L1595.2 855.2L1596.3 860.1L1597.4 864.9L1598.5 869.8L1599.5 874.7L1600.6 879.6L1601.7 884.5L1602.8 889.3L1603.9 894.2L1605 899.1L1606 904L1607.1 908.9L1608.2 913.8L1609.3 918.6L1610.3 923.5L1611.4 928.4L1612.5 933.3L1613.6 938.2L1614.6 943.1L1615.7 947.9L1616.7 952.8L1617.8 957.7L1618.9 962.6L1619.9 967.5L1621 972.4L1622 977.3L1623.1 982.2L1624.1 987L1625.2 991.9L1626.2 996.8L1627.2 1001.7L1628.3 1006.6L1629.3 1011.5L1630.3 1016.4L1631.4 1021.3L1632.4 1026.2L1633.4 1031.1L1634.5 1036L1635.5 1040.8L1636.5 1045.7L1637.6 1050.6L1638.6 1055.5L1639.6 1060.4L1640.7 1065.3L1641.7 1070.2L1642.7 1075.1L1643.8 1080L1644.8 1084.9L1645.9 1089.8L1646.9 1094.7L1648 1099.5L1649 1104.4L1650.1 1109.3L1651.1 1114.2L1652.2 1119.1L1653.2 1124L1654.3 1128.9L1655.4 1133.8L1656.4 1138.6L1657.5 1143.5L1658.6 1148.4L1659.7 1153.3L1660.8 1158.2L1661.9 1163L1663 1167.9L1664.1 1172.8L1665.2 1177.7L1666.3 1182.5L1667.4 1187.4L1668.6 1192.3L1669.7 1197.2L1670.8 1202L1672 1206.9L1673.2 1211.7L1674.3 1216.6L1675.5 1221.5L1676.7 1226.3L1677.9 1231.2L1679.1 1236L1680.3 1240.9L1681.5 1245.7L1682.8 1250.6L1684 1255.4L1685.3 1260.2L1686.6 1265.1L1687.9 1269.9L1689.2 1274.7L1690.5 1279.6L1691.8 1284.4L1693.1 1289.2L1694.5 1294L1695.9 1298.8L1697.3 1303.6L1698.7 1308.4L1700.1 1313.2L1701.5 1318L1703 1322.8L1704.4 1327.6L1705.9 1332.4L1707.4 1337.1L1708.9 1341.9L1710.5 1346.6L1712 1351.4L1713.6 1356.1L1715.2 1360.9L1716.8 1365.6L1718.5 1370.3L1720.1 1375L1721.8 1379.7L1723.6 1384.4L1725.3 1389.1L1727.1 1393.8L1728.9 1398.5L1730.7 1403.1L1732.6 1407.8L1734.4 1412.4L1736.4 1417L1738.3 1421.6L1740.3 1426.2L1742.3 1430.8L1744.4 1435.3L1746.5 1439.9L1748.6 1444.4L1750.8 1448.9L1753 1453.4L1755.2 1457.9L1757.5 1462.3L1759.9 1466.7L1762.2 1471.1L1764.7 1475.5L1767.1 1479.8L1769.6 1484.2L1772.2 1488.4L1774.8 1492.7L1777.5 1497L1780.1 1501.2L1782.9 1505.4L1785.7 1509.5L1788.5 1513.6L1791.4 1517.7L1794.3 1521.8L1797.2 1525.8L1800.3 1529.8L1803.3 1533.8L1806.4 1537.7L1809.6 1541.6L1812.8 1545.4L1816 1549.2L1819.2 1553.1L1822.4 1556.9L1825.7 1560.7L1829.1 1564.4L1832.5 1568L1836.2 1571.4L1840 1574.6L1844.1 1577.5L1848.4 1580.1L1852.9 1582.3L1857.4 1584.3L1862.1 1586L1866.8 1587.7L1871.6 1589.2L1876.4 1590.7L1881.2 1592L1886 1593.3L1890.9 1594.5L1895.8 1595.6L1900.7 1596.5L1905.6 1597.4L1910.5 1598.1L1915.5 1598.9L1920.4 1599.5L1925.4 1600.1L1930.4 1600.7L1935.3 1601.2L1940.3 1601.7L1945.3 1602.2L1950.3 1602.6L1955.3 1603L1960.2 1603.5L1965.2 1603.8L1970.2 1604L1975.2 1604.1L1980.2 1604.1L1985.2 1604.1L1990.2 1604.2L1995.2 1604.2L2000.2 1604.2L2005.2 1604.2L2006 1604.2"/>
<path class="c" stroke="#D87A00" d="M80 1605L85 1604.9L90 1604.8L95 1604.7L100 1604.6L105 1604.4L110 1604.3L115 1604.1L120 1603.9L125 1603.7L130 1603.4L135 1603.2L140 1602.9L145 1602.6L149.9 1602.3L154.9 1602L159.9 1601.7L164.9 1601.4L169.9 1601.1L174.9 1600.8L179.9 1600.4L184.9 1600.1L189.9 1599.7L194.8 1599.4L199.8 1599L204.8 1598.6L209.8 1598.2L214.8 1597.8L219.8 1597.3L224.7 1596.8L229.7 1596.2L234.7 1595.6L239.6 1595L244.6 1594.4L249.5 1593.8L254.5 1593.1L259.5 1592.4L264.4 1591.7L269.4 1591L274.3 1590.3L279.3 1589.6L284.2 1588.8L289.1 1588.1L294.1 1587.3L299 1586.6L304 1585.8L308.9 1585.1L313.9 1584.4L318.8 1583.6L323.8 1582.9L328.7 1582.2L333.7 1581.5L338.6 1580.8L343.6 1580L348.5 1579.3L353.4 1578.6L358.4 1577.8L363.3 1577.1L368.3 1576.3L373.2 1575.6L378.2 1574.8L383.1 1574L388 1573.2L393 1572.3L397.9 1571.5L402.8 1570.7L407.8 1569.9L412.7 1569.1L417.6 1568.2L422.5 1567.3L427.4 1566.3L432.3 1565.3L437.2 1564.2L442 1563L446.9 1561.6L451.7 1560.2L456.4 1558.7L461.2 1557.2L465.9 1555.6L470.7 1554.1L475.4 1552.5L480.2 1550.8L484.9 1549.2L489.6 1547.5L494.3 1545.9L499.1 1544.4L503.9 1543L508.7 1541.5L513.4 1540L518.2 1538.5L522.9 1536.9L527.7 1535.3L532.4 1533.6L537.1 1531.9L541.8 1530.2L546.4 1528.4L551.1 1526.6L555.8 1524.8L560.4 1522.9L565 1521L569.7 1519.1L574.3 1517.2L578.9 1515.2L583.5 1513.2L588 1511.2L592.6 1509.2L597.1 1507.1L601.7 1505L606.2 1502.8L610.7 1500.6L615.1 1498.4L619.6 1496.1L624 1493.8L628.5 1491.5L632.9 1489.1L637.3 1486.7L641.6 1484.3L646 1481.8L650.3 1479.3L654.6 1476.8L658.9 1474.2L663.1 1471.5L667.3 1468.8L671.5 1466.1L675.7 1463.4L679.8 1460.6L684 1457.7L688 1454.9L692.1 1451.9L696.1 1449L700.1 1446L704.1 1442.9L708 1439.8L711.9 1436.7L715.8 1433.5L719.6 1430.3L723.4 1427.1L727.2 1423.8L730.9 1420.5L734.6 1417.1L738.3 1413.7L741.9 1410.2L745.5 1406.7L749 1403.2L752.5 1399.7L756 1396.1L759.4 1392.4L762.8 1388.7L766 1384.9L769.2 1381L772.2 1377.1L775.2 1373L778.1 1368.9L780.8 1364.8L783.5 1360.5L786 1356.2L788.5 1351.9L790.8 1347.5L793.1 1343L795.3 1338.5L797.5 1334L799.6 1329.5L801.8 1325L804.1 1320.6L806.4 1316.1L808.8 1311.7L811.2 1307.3L813.7 1303L816.2 1298.7L818.8 1294.4L821.4 1290.2L824.1 1285.9L826.9 1281.8L829.6 1277.6L832.5 1273.5L835.4 1269.4L838.3 1265.3L841.2 1261.3L844.1 1257.2L847.1 1253.2L850 1249.2L852.9 1245.1L855.8 1241L858.7 1236.9L861.6 1232.9L864.5 1228.8L867.3 1224.6L870.1 1220.5L872.9 1216.4L875.7 1212.2L878.5 1208.1L881.3 1203.9L884 1199.7L886.7 1195.5L889.5 1191.3L892.2 1187.1L894.9 1182.9L897.5 1178.7L900.2 1174.5L902.9 1170.2L905.5 1166L908.1 1161.7L910.7 1157.5L913.3 1153.2L915.9 1148.9L918.5 1144.6L921.1 1140.3L923.6 1136L926.2 1131.7L928.7 1127.4L931.2 1123.1L933.7 1118.8L936.2 1114.4L938.6 1110.1L941.1 1105.7L943.5 1101.3L945.9 1097L948.3 1092.6L950.7 1088.2L953.1 1083.8L955.5 1079.4L957.8 1075L960.2 1070.6L962.5 1066.1L964.8 1061.7L967.1 1057.3L969.4 1052.8L971.7 1048.4L973.9 1043.9L976.1 1039.4L978.4 1034.9L980.6 1030.5L982.8 1026L985 1021.5L987.1 1017L989.3 1012.5L991.4 1007.9L993.6 1003.4L995.7 998.9L997.8 994.4L999.9 989.8L1002 985.3L1004.1 980.7L1006.1 976.2L1008.2 971.6L1010.3 967.1L1012.3 962.5L1014.3 957.9L1016.3 953.4L1018.4 948.8L1020.4 944.2L1022.4 939.6L1024.3 935L1026.3 930.4L1028.3 925.8L1030.3 921.2L1032.2 916.6L1034.2 912L1036.1 907.4L1038 902.8L1040 898.2L1041.9 893.6L1043.8 889L1045.7 884.3L1047.6 879.7L1049.5 875.1L1051.4 870.5L1053.3 865.8L1055.2 861.2L1057.1 856.6L1058.9 851.9L1060.8 847.3L1062.7 842.7L1064.5 838L1066.4 833.4L1068.2 828.7L1070.1 824.1L1071.9 819.4L1073.7 814.8L1075.6 810.1L1077.4 805.5L1079.2 800.8L1081 796.2L1082.9 791.5L1084.7 786.8L1086.5 782.2L1088.3 777.5L1090.1 772.9L1091.9 768.2L1093.7 763.5L1095.5 758.9L1097.3 754.2L1099.1 749.5L1100.9 744.9L1102.6 740.2L1104.4 735.5L1106.2 730.8L1108 726.2L1109.8 721.5L1111.5 716.8L1113.3 712.1L1115.1 707.5L1116.8 702.8L1118.6 698.1L1120.3 693.4L1122.1 688.7L1123.9 684.1L1125.6 679.4L1127.4 674.7L1129.1 670L1130.9 665.3L1132.6 660.6L1134.4 656L1136.1 651.3L1137.8 646.6L1139.6 641.9L1141.3 637.2L1143 632.5L1144.8 627.8L1146.5 623.1L1148.3 618.4L1150 613.8L1151.7 609.1L1153.4 604.4L1155.2 599.7L1156.9 595L1158.6 590.3L1160.3 585.6L1162.1 580.9L1163.8 576.2L1165.5 571.5L1167.2 566.8L1169 562.1L1170.7 557.4L1172.4 552.7L1174.1 548.1L1175.9 543.4L1177.6 538.7L1179.3 534L1181 529.3L1182.7 524.6L1184.5 519.9L1186.2 515.2L1187.9 510.5L1189.6 505.8L1191.4 501.1L1193.1 496.4L1194.8 491.7L1196.5 487L1198.3 482.3L1200 477.7L1201.7 473L1203.5 468.3L1205.2 463.6L1206.9 458.9L1208.7 454.2L1210.4 449.5L1212.1 444.8L1213.9 440.1L1215.6 435.5L1217.4 430.8L1219.1 426.1L1220.9 421.4L1222.6 416.7L1224.4 412L1226.1 407.4L1227.9 402.7L1229.7 398L1231.4 393.3L1233.2 388.6L1235 384L1236.8 379.3L1238.5 374.6L1240.3 370L1242.1 365.3L1243.9 360.6L1245.7 356L1247.5 351.3L1249.3 346.6L1251.1 342L1253 337.3L1254.8 332.7L1256.6 328L1258.5 323.4L1260.3 318.7L1262.2 314.1L1264 309.4L1265.9 304.8L1267.8 300.2L1269.7 295.5L1271.5 290.9L1273.4 286.3L1275.4 281.7L1277.3 277L1279.2 272.4L1281.1 267.8L1283.1 263.2L1285 258.6L1287 254L1289 249.4L1291 244.8L1293 240.3L1295 235.7L1297.1 231.1L1299.1 226.6L1301.2 222L1303.3 217.5L1305.4 212.9L1307.5 208.4L1309.6 203.9L1311.8 199.4L1313.9 194.9L1316.1 190.4L1318.4 185.9L1320.6 181.4L1322.9 177L1325.1 172.5L1327.5 168.1L1329.8 163.7L1332.2 159.3L1334.6 154.9L1337 150.5L1339.5 146.2L1342 141.8L1344.6 137.5L1347.2 133.3L1349.8 129L1352.5 124.8L1355.2 120.6L1358 116.5L1360.8 112.3L1363.7 108.2L1366.6 104.2L1369.6 100.2L1372.7 96.2L1375.8 92.4L1379.2 88.6L1382.6 85L1386.3 81.7L1390.2 78.6L1394.4 75.8L1398.8 73.5L1403.5 71.6L1408.2 70.1L1413.1 69.2L1418.1 68.7L1423.1 68.6L1428.1 69.1L1433 70L1437.8 71.3L1442.5 73.1L1447 75.2L1451.4 77.7L1455.5 80.5L1459.4 83.7L1463.1 87L1466.6 90.6L1469.9 94.4L1473 98.2L1476.1 102.2L1479 106.3L1481.8 110.4L1484.5 114.6L1487.1 118.9L1489.6 123.2L1492.1 127.5L1494.6 131.9L1496.9 136.3L1499.3 140.7L1501.6 145.1L1503.9 149.6L1506.1 154.1L1508.3 158.5L1510.5 163L1512.7 167.5L1514.8 172.1L1516.9 176.6L1519 181.2L1521 185.7L1523.1 190.3L1525.1 194.9L1527.1 199.5L1529 204.1L1530.9 208.7L1532.8 213.3L1534.7 217.9L1536.6 222.6L1538.4 227.2L1540.3 231.9L1542 236.5L1543.8 241.2L1545.6 245.9L1547.3 250.6L1549 255.3L1550.7 260L1552.4 264.7L1554 269.4L1555.7 274.1L1557.3 278.9L1558.9 283.6L1560.5 288.4L1562 293.1L1563.6 297.9L1565.1 302.6L1566.7 307.4L1568.2 312.1L1569.7 316.9L1571.2 321.7L1572.7 326.5L1574.1 331.2L1575.6 336L1577 340.8L1578.5 345.6L1579.9 350.4L1581.3 355.2L1582.7 360L1584.1 364.8L1585.5 369.6L1586.9 374.4L1588.2 379.2L1589.6 384L1590.9 388.8L1592.3 393.7L1593.6 398.5L1594.9 403.3L1596.2 408.1L1597.5 412.9L1598.8 417.8L1600.1 422.6L1601.4 427.4L1602.7 432.3L1604 437.1L1605.3 441.9L1606.5 446.8L1607.8 451.6L1609 456.4L1610.3 461.3L1611.5 466.1L1612.8 471L1614 475.8L1615.2 480.7L1616.4 485.5L1617.7 490.4L1618.9 495.2L1620.1 500.1L1621.3 504.9L1622.5 509.8L1623.7 514.6L1624.9 519.5L1626 524.4L1627.2 529.2L1628.4 534.1L1629.6 538.9L1630.8 543.8L1631.9 548.7L1633.1 553.5L1634.2 558.4L1635.4 563.2L1636.6 568.1L1637.7 573L1638.9 577.8L1640 582.7L1641.1 587.6L1642.3 592.4L1643.4 597.3L1644.6 602.2L1645.7 607L1646.8 611.9L1648 616.8L1649.1 621.7L1650.2 626.5L1651.3 631.4L1652.5 636.3L1653.6 641.2L1654.7 646L1655.8 650.9L1656.9 655.8L1658 660.6L1659.1 665.5L1660.2 670.4L1661.4 675.3L1662.5 680.2L1663.6 685L1664.7 689.9L1665.8 694.8L1666.9 699.7L1668 704.5L1669.1 709.4L1670.2 714.3L1671.3 719.2L1672.4 724L1673.5 728.9L1674.5 733.8L1675.6 738.7L1676.7 743.6L1677.8 748.4L1678.9 753.3L1680 758.2L1681.1 763.1L1682.2 768L1683.3 772.8L1684.4 777.7L1685.5 782.6L1686.5 787.5L1687.6 792.4L1688.7 797.2L1689.8 802.1L1690.9 807L1692 811.9L1693.1 816.8L1694.2 821.6L1695.2 826.5L1696.3 831.4L1697.4 836.3L1698.5 841.2L1699.6 846L1700.7 850.9L1701.8 855.8L1702.9 860.7L1704 865.6L1705.1 870.4L1706.2 875.3L1707.3 880.2L1708.3 885.1L1709.4 890L1710.5 894.8L1711.6 899.7L1712.7 904.6L1713.8 909.5L1714.9 914.3L1716 919.2L1717.1 924.1L1718.3 929L1719.4 933.8L1720.5 938.7L1721.6 943.6L1722.7 948.5L1723.8 953.3L1724.9 958.2L1726 963.1L1727.2 968L1728.3 972.8L1729.4 977.7L1730.5 982.6L1731.7 987.5L1732.8 992.3L1733.9 997.2L1735.1 1002.1L1736.2 1006.9L1737.3 1011.8L1738.5 1016.7L1739.6 1021.5L1740.8 1026.4L1741.9 1031.3L1743.1 1036.1L1744.2 1041L1745.4 1045.9L1746.5 1050.7L1747.7 1055.6L1748.9 1060.5L1750 1065.3L1751.2 1070.2L1752.4 1075L1753.6 1079.9L1754.8 1084.7L1756 1089.6L1757.2 1094.5L1758.3 1099.3L1759.6 1104.2L1760.8 1109L1762 1113.9L1763.2 1118.7L1764.4 1123.6L1765.6 1128.4L1766.9 1133.3L1768.1 1138.1L1769.3 1143L1770.6 1147.8L1771.8 1152.6L1773.1 1157.5L1774.4 1162.3L1775.6 1167.1L1776.9 1172L1778.2 1176.8L1779.5 1181.6L1780.8 1186.5L1782.1 1191.3L1783.4 1196.1L1784.7 1200.9L1786.1 1205.8L1787.4 1210.6L1788.7 1215.4L1790.1 1220.2L1791.5 1225L1792.8 1229.8L1794.2 1234.6L1795.6 1239.4L1797 1244.2L1798.4 1249L1799.9 1253.8L1801.3 1258.6L1802.8 1263.4L1804.2 1268.2L1805.7 1272.9L1807.2 1277.7L1808.7 1282.5L1810.2 1287.3L1811.7 1292L1813.3 1296.8L1814.8 1301.5L1816.4 1306.3L1818 1311L1819.6 1315.7L1821.2 1320.5L1822.9 1325.2L1824.5 1329.9L1826.2 1334.6L1827.9 1339.3L1829.7 1344L1831.4 1348.7L1833.2 1353.4L1834.9 1358L1836.8 1362.7L1838.6 1367.4L1840.5 1372L1842.3 1376.6L1844.3 1381.2L1846.2 1385.9L1848.2 1390.5L1850.2 1395L1852.2 1399.6L1854.3 1404.2L1856.4 1408.7L1858.5 1413.2L1860.7 1417.7L1862.9 1422.2L1865.1 1426.7L1867.4 1431.1L1869.7 1435.5L1872.1 1439.9L1874.5 1444.3L1877 1448.7L1879.5 1453L1882.1 1457.3L1884.7 1461.5L1887.4 1465.8L1890.1 1469.9L1892.9 1474.1L1895.7 1478.2L1898.6 1482.3L1901.5 1486.4L1904.5 1490.4L1907.5 1494.4L1910.6 1498.3L1913.7 1502.3L1916.8 1506.1L1920 1510L1923.3 1513.8L1926.6 1517.5L1929.9 1521.3L1933.3 1524.9L1936.7 1528.6L1940.2 1532.2L1943.7 1535.8L1947.2 1539.3L1950.8 1542.8L1954.4 1546.3L1958 1549.7L1961.7 1553L1965.5 1556.4L1969.2 1559.7L1973.1 1562.9L1977 1566L1981 1569L1985.1 1571.8L1989.3 1574.5L1993.7 1576.9L1998.2 1579L2002.9 1580.8L2007.6 1582.5L2012.3 1584.1L2017.1 1585.6L2021.9 1587L2026.7 1588.3L2031.6 1589.6L2036.5 1590.7L2041.3 1591.8L2046.2 1592.8L2051.1 1593.7L2056.1 1594.6L2061 1595.5L2065.9 1596.3L2070.9 1597L2075.8 1597.8L2080.8 1598.5L2085.7 1599.2L2090.7 1599.8L2095.6 1600.4L2100.6 1601L2105.6 1601.5L2110.6 1602L2115.5 1602.4L2120.5 1602.8L2125.5 1603.2L2130.5 1603.6L2135.5 1603.9L2140.5 1604.3L2145.5 1604.6L2150.4 1604.9L2155.4 1605.2L2160.4 1605.4L2165.4 1605.6L2170.4 1605.8L2175.4 1605.9L2180.4 1606L2185.4 1606.1L2190.4 1606.2L2195.4 1606.2L2200.4 1606.3L2205.4 1606.3L2210.4 1606.4L2215.4 1606.4L2220.4 1606.4L2225.4 1606.5L2230.4 1606.5L2235.4 1606.5L2238 1606.5"/>
<path class="c" stroke="#FBB500" d="M76 1604.5L81 1604.5L86 1604.5L91 1604.5L96 1604.4L101 1604.4L106 1604.3L111 1604.3L116 1604.2L121 1604.1L126 1604L131 1603.9L136 1603.8L141 1603.7L146 1603.6L151 1603.5L156 1603.2L161 1602.9L166 1602.4L170.9 1601.9L175.9 1601.2L180.8 1600.6L185.8 1599.8L190.7 1599.1L195.7 1598.3L200.6 1597.6L205.6 1596.9L210.5 1596.3L215.5 1595.7L220.5 1595.2L225.4 1594.6L230.4 1594.1L235.4 1593.6L240.4 1593L245.3 1592.5L250.3 1592L255.3 1591.5L260.2 1591L265.2 1590.4L270.2 1589.9L275.2 1589.4L280.1 1588.8L285.1 1588.2L290.1 1587.6L295 1587L300 1586.3L304.9 1585.7L309.9 1584.9L314.8 1584.2L319.8 1583.5L324.7 1582.7L329.7 1582L334.6 1581.4L339.6 1580.7L344.5 1580.1L349.5 1579.5L354.5 1578.8L359.4 1578.2L364.4 1577.6L369.3 1576.9L374.3 1576.3L379.2 1575.6L384.2 1574.9L389.2 1574.2L394.1 1573.5L399.1 1572.8L404 1572.1L408.9 1571.4L413.9 1570.6L418.8 1569.9L423.8 1569.1L428.7 1568.3L433.6 1567.4L438.6 1566.5L443.5 1565.6L448.4 1564.7L453.3 1563.7L458.2 1562.7L463 1561.5L467.9 1560.3L472.7 1559.1L477.5 1557.6L482.2 1556L486.9 1554.2L491.6 1552.6L496.4 1551L501.2 1549.7L506.1 1548.5L511 1547.4L515.8 1546.3L520.7 1545.2L525.6 1544.1L530.4 1542.9L535.3 1541.6L540.1 1540.2L544.8 1538.7L549.6 1537.1L554.2 1535.3L558.9 1533.4L563.5 1531.5L568.1 1529.5L572.7 1527.5L577.2 1525.5L581.8 1523.4L586.3 1521.4L590.9 1519.3L595.5 1517.3L600 1515.3L604.6 1513.2L609.2 1511.2L613.7 1509.1L618.3 1507L622.8 1504.9L627.3 1502.7L631.8 1500.5L636.3 1498.3L640.7 1496L645.1 1493.7L649.5 1491.3L653.9 1488.8L658.2 1486.3L662.5 1483.8L666.8 1481.2L671 1478.5L675.2 1475.8L679.4 1473.1L683.6 1470.4L687.8 1467.6L691.9 1464.8L696.1 1462.1L700.3 1459.3L704.4 1456.5L708.6 1453.8L712.7 1451L716.9 1448.1L721 1445.3L725 1442.4L729 1439.4L733 1436.3L736.9 1433.2L740.7 1429.9L744.4 1426.6L748 1423.1L751.6 1419.6L755 1416L758.4 1412.3L761.6 1408.5L764.9 1404.7L768 1400.8L771.1 1396.9L774.2 1393L777.3 1389L780.3 1385L783.3 1381L786.3 1377L789.3 1373L792.3 1369L795.3 1365L798.4 1361.1L801.4 1357.1L804.4 1353.1L807.5 1349.2L810.6 1345.2L813.7 1341.3L816.7 1337.4L819.8 1333.4L822.9 1329.5L826 1325.6L829.1 1321.7L832.3 1317.8L835.4 1313.8L838.5 1309.9L841.6 1306L844.7 1302.1L847.8 1298.2L850.9 1294.3L854 1290.4L857.1 1286.4L860.2 1282.5L863.3 1278.5L866.3 1274.6L869.4 1270.6L872.4 1266.6L875.4 1262.6L878.4 1258.6L881.4 1254.6L884.3 1250.6L887.2 1246.5L890.1 1242.4L893 1238.3L895.8 1234.2L898.6 1230.1L901.4 1225.9L904.2 1221.8L906.9 1217.6L909.7 1213.4L912.4 1209.2L915.1 1205L917.7 1200.8L920.4 1196.5L923 1192.3L925.6 1188L928.2 1183.7L930.8 1179.4L933.4 1175.1L935.9 1170.8L938.4 1166.5L940.9 1162.2L943.4 1157.9L945.9 1153.5L948.4 1149.2L950.8 1144.8L953.2 1140.4L955.7 1136.1L958.1 1131.7L960.4 1127.3L962.8 1122.9L965.2 1118.5L967.5 1114.1L969.9 1109.6L972.2 1105.2L974.5 1100.8L976.8 1096.3L979.1 1091.9L981.4 1087.4L983.7 1083L985.9 1078.5L988.2 1074.1L990.4 1069.6L992.6 1065.1L994.9 1060.6L997.1 1056.2L999.3 1051.7L1001.5 1047.2L1003.6 1042.7L1005.8 1038.2L1008 1033.7L1010.1 1029.2L1012.3 1024.6L1014.4 1020.1L1016.6 1015.6L1018.7 1011.1L1020.8 1006.6L1023 1002L1025.1 997.5L1027.2 993L1029.3 988.4L1031.4 983.9L1033.5 979.4L1035.6 974.8L1037.6 970.3L1039.7 965.7L1041.8 961.2L1043.8 956.6L1045.9 952L1047.9 947.5L1050 942.9L1052 938.3L1054 933.8L1056.1 929.2L1058.1 924.6L1060.1 920.1L1062.1 915.5L1064.1 910.9L1066.1 906.3L1068.1 901.7L1070.1 897.1L1072.1 892.6L1074.1 888L1076 883.4L1078 878.8L1080 874.2L1081.9 869.6L1083.9 865L1085.8 860.4L1087.7 855.7L1089.7 851.1L1091.6 846.5L1093.5 841.9L1095.5 837.3L1097.4 832.7L1099.3 828.1L1101.2 823.4L1103.1 818.8L1105 814.2L1106.9 809.6L1108.8 804.9L1110.6 800.3L1112.5 795.7L1114.4 791L1116.3 786.4L1118.1 781.7L1120 777.1L1121.8 772.5L1123.7 767.8L1125.5 763.2L1127.4 758.5L1129.2 753.9L1131 749.2L1132.9 744.6L1134.7 739.9L1136.5 735.2L1138.3 730.6L1140.1 725.9L1141.9 721.3L1143.7 716.6L1145.5 711.9L1147.3 707.3L1149.1 702.6L1150.9 697.9L1152.7 693.3L1154.5 688.6L1156.3 683.9L1158 679.2L1159.8 674.6L1161.6 669.9L1163.3 665.2L1165.1 660.5L1166.8 655.8L1168.6 651.2L1170.3 646.5L1172.1 641.8L1173.8 637.1L1175.6 632.4L1177.3 627.7L1179 623L1180.8 618.3L1182.5 613.7L1184.2 609L1186 604.3L1187.7 599.6L1189.4 594.9L1191.1 590.2L1192.8 585.5L1194.5 580.8L1196.2 576.1L1197.9 571.4L1199.6 566.7L1201.4 562L1203 557.3L1204.7 552.6L1206.4 547.9L1208.1 543.2L1209.8 538.5L1211.5 533.8L1213.2 529.1L1214.9 524.3L1216.6 519.6L1218.3 514.9L1220 510.2L1221.6 505.5L1223.3 500.8L1225 496.1L1226.7 491.4L1228.4 486.7L1230 482L1231.7 477.3L1233.4 472.6L1235.1 467.8L1236.7 463.1L1238.4 458.4L1240.1 453.7L1241.8 449L1243.5 444.3L1245.2 439.6L1246.8 434.9L1248.5 430.2L1250.2 425.5L1251.9 420.8L1253.6 416.1L1255.3 411.4L1257 406.7L1258.7 402L1260.4 397.3L1262.1 392.6L1263.8 387.9L1265.5 383.2L1267.3 378.5L1269 373.8L1270.7 369.1L1272.5 364.4L1274.2 359.7L1275.9 355L1277.7 350.3L1279.4 345.7L1281.2 341L1283 336.3L1284.8 331.6L1286.5 327L1288.3 322.3L1290.1 317.6L1291.9 313L1293.8 308.3L1295.6 303.6L1297.4 299L1299.3 294.3L1301.1 289.7L1303 285.1L1304.9 280.4L1306.8 275.8L1308.6 271.2L1310.6 266.6L1312.5 261.9L1314.4 257.3L1316.4 252.7L1318.3 248.1L1320.3 243.5L1322.3 238.9L1324.3 234.4L1326.3 229.8L1328.3 225.2L1330.4 220.7L1332.5 216.1L1334.5 211.6L1336.6 207L1338.8 202.5L1340.9 198L1343.1 193.5L1345.3 189L1347.5 184.5L1349.7 180L1352 175.6L1354.3 171.1L1356.6 166.7L1358.9 162.3L1361.3 157.9L1363.7 153.5L1366.2 149.1L1368.7 144.8L1371.2 140.5L1373.8 136.2L1376.4 131.9L1379.1 127.7L1381.8 123.5L1384.6 119.4L1387.4 115.3L1390.3 111.2L1393.3 107.2L1396.4 103.3L1399.6 99.4L1402.8 95.6L1406.2 91.9L1409.8 88.4L1413.4 85L1417.3 81.8L1421.3 78.8L1425.5 76.1L1429.9 73.8L1434.5 71.8L1439.3 70.3L1444.2 69.3L1449.1 68.7L1454.1 68.6L1459.1 69L1464 69.9L1468.8 71.3L1473.5 73.1L1478 75.3L1482.3 77.9L1486.4 80.8L1490.2 83.9L1493.9 87.3L1497.5 90.8L1500.9 94.5L1504.1 98.3L1507.2 102.2L1510.2 106.2L1513.1 110.3L1515.9 114.5L1518.6 118.7L1521.2 122.9L1523.7 127.2L1526.2 131.6L1528.7 135.9L1531 140.3L1533.4 144.7L1535.7 149.2L1537.9 153.7L1540.1 158.2L1542.3 162.7L1544.4 167.2L1546.5 171.7L1548.6 176.2L1550.7 180.8L1552.7 185.4L1554.7 189.9L1556.7 194.5L1558.7 199.1L1560.7 203.7L1562.6 208.3L1564.5 212.9L1566.4 217.6L1568.3 222.2L1570.2 226.8L1572 231.5L1573.8 236.1L1575.6 240.8L1577.4 245.5L1579.2 250.2L1580.9 254.8L1582.7 259.5L1584.4 264.2L1586.1 268.9L1587.8 273.6L1589.4 278.3L1591.1 283.1L1592.7 287.8L1594.3 292.5L1595.9 297.3L1597.5 302L1599.1 306.8L1600.6 311.5L1602.2 316.3L1603.7 321L1605.2 325.8L1606.7 330.6L1608.2 335.4L1609.6 340.1L1611.1 344.9L1612.5 349.7L1613.9 354.5L1615.3 359.3L1616.7 364.1L1618 368.9L1619.4 373.7L1620.7 378.6L1622.1 383.4L1623.4 388.2L1624.7 393L1626 397.9L1627.2 402.7L1628.5 407.5L1629.8 412.4L1631 417.2L1632.2 422.1L1633.5 426.9L1634.7 431.8L1635.9 436.6L1637.1 441.5L1638.3 446.3L1639.5 451.2L1640.7 456L1641.8 460.9L1643 465.7L1644.2 470.6L1645.4 475.5L1646.5 480.3L1647.7 485.2L1648.9 490.1L1650 494.9L1651.2 499.8L1652.3 504.6L1653.5 509.5L1654.7 514.4L1655.8 519.2L1657 524.1L1658.1 529L1659.3 533.8L1660.4 538.7L1661.6 543.6L1662.8 548.4L1663.9 553.3L1665.1 558.2L1666.2 563L1667.4 567.9L1668.5 572.8L1669.7 577.6L1670.8 582.5L1672 587.3L1673.1 592.2L1674.3 597.1L1675.4 601.9L1676.6 606.8L1677.8 611.7L1678.9 616.5L1680.1 621.4L1681.2 626.3L1682.4 631.1L1683.5 636L1684.7 640.9L1685.8 645.7L1687 650.6L1688.1 655.5L1689.3 660.3L1690.4 665.2L1691.6 670.1L1692.7 674.9L1693.9 679.8L1695 684.7L1696.2 689.5L1697.3 694.4L1698.5 699.3L1699.6 704.1L1700.8 709L1701.9 713.8L1703.1 718.7L1704.2 723.6L1705.4 728.4L1706.5 733.3L1707.7 738.2L1708.8 743L1710 747.9L1711.1 752.8L1712.3 757.6L1713.4 762.5L1714.6 767.4L1715.7 772.2L1716.9 777.1L1718 782L1719.2 786.8L1720.3 791.7L1721.5 796.6L1722.6 801.4L1723.8 806.3L1724.9 811.2L1726.1 816L1727.2 820.9L1728.4 825.8L1729.5 830.6L1730.7 835.5L1731.8 840.4L1733 845.2L1734.1 850.1L1735.3 855L1736.4 859.8L1737.5 864.7L1738.7 869.6L1739.8 874.4L1741 879.3L1742.1 884.2L1743.3 889L1744.4 893.9L1745.6 898.8L1746.7 903.6L1747.9 908.5L1749 913.4L1750.2 918.2L1751.3 923.1L1752.5 928L1753.6 932.8L1754.7 937.7L1755.9 942.6L1757 947.4L1758.2 952.3L1759.3 957.2L1760.5 962L1761.6 966.9L1762.8 971.8L1763.9 976.6L1765.1 981.5L1766.2 986.4L1767.4 991.2L1768.5 996.1L1769.7 1001L1770.8 1005.8L1772 1010.7L1773.1 1015.6L1774.3 1020.4L1775.4 1025.3L1776.6 1030.2L1777.7 1035L1778.9 1039.9L1780 1044.8L1781.2 1049.6L1782.4 1054.5L1783.5 1059.4L1784.7 1064.2L1785.8 1069.1L1787 1073.9L1788.2 1078.8L1789.3 1083.7L1790.5 1088.5L1791.7 1093.4L1792.8 1098.3L1794 1103.1L1795.2 1108L1796.3 1112.8L1797.5 1117.7L1798.7 1122.6L1799.9 1127.4L1801.1 1132.3L1802.2 1137.1L1803.4 1142L1804.6 1146.8L1805.8 1151.7L1807 1156.5L1808.3 1161.4L1809.5 1166.2L1810.7 1171.1L1811.9 1175.9L1813.2 1180.8L1814.4 1185.6L1815.7 1190.5L1816.9 1195.3L1818.2 1200.1L1819.5 1205L1820.8 1209.8L1822.1 1214.6L1823.4 1219.4L1824.7 1224.3L1826.1 1229.1L1827.4 1233.9L1828.8 1238.7L1830.2 1243.5L1831.6 1248.3L1833 1253.1L1834.5 1257.9L1835.9 1262.7L1837.4 1267.5L1838.9 1272.2L1840.4 1277L1841.9 1281.8L1843.5 1286.5L1845 1291.3L1846.6 1296L1848.2 1300.7L1849.8 1305.5L1851.5 1310.2L1853.2 1314.9L1854.8 1319.6L1856.6 1324.3L1858.3 1329L1860.1 1333.7L1861.8 1338.3L1863.6 1343L1865.5 1347.7L1867.3 1352.3L1869.2 1356.9L1871.1 1361.6L1873 1366.2L1875 1370.8L1876.9 1375.4L1878.9 1380L1881 1384.5L1883 1389.1L1885.1 1393.6L1887.2 1398.2L1889.3 1402.7L1891.5 1407.2L1893.7 1411.7L1895.9 1416.2L1898.1 1420.6L1900.4 1425.1L1902.7 1429.5L1905.1 1434L1907.4 1438.4L1909.8 1442.7L1912.3 1447.1L1914.7 1451.5L1917.2 1455.8L1919.7 1460.1L1922.3 1464.4L1924.9 1468.7L1927.6 1472.9L1930.2 1477.1L1933 1481.3L1935.7 1485.5L1938.6 1489.6L1941.4 1493.7L1944.4 1497.8L1947.3 1501.8L1950.4 1505.8L1953.5 1509.7L1956.6 1513.6L1959.8 1517.4L1963.1 1521.2L1966.4 1524.9L1969.9 1528.5L1973.3 1532.1L1976.8 1535.7L1980.4 1539.2L1984 1542.7L1987.7 1546L1991.6 1549.2L1995.6 1552.2L1999.7 1555L2004 1557.6L2008.4 1560L2012.7 1562.5L2017.1 1564.8L2021.6 1567.1L2026.1 1569.3L2030.6 1571.5L2035.1 1573.5L2039.7 1575.5L2044.3 1577.4L2049 1579.2L2053.7 1581L2058.4 1582.6L2063.2 1584.1L2068 1585.5L2072.8 1587L2077.6 1588.3L2082.4 1589.7L2087.2 1590.9L2092.1 1592.1L2097 1593.3L2101.9 1594.3L2106.8 1595.3L2111.7 1596.2L2116.6 1597.1L2121.5 1597.9L2126.5 1598.6L2131.4 1599.4L2136.4 1600.1L2141.3 1600.8L2146.3 1601.4L2151.2 1602L2156.2 1602.6L2161.2 1603.1L2166.2 1603.5L2171.2 1603.8L2176.2 1604.1L2181.2 1604.3L2186.1 1604.4L2191.1 1604.6L2196.1 1604.7L2201.1 1604.8L2206.1 1604.9L2211.1 1605L2216.1 1605.1L2221.1 1605.2L2226.1 1605.2L2231.1 1605.3L2236.1 1605.3L2238 1605.3"/>
<path class="c" stroke="#FFFF00" d="M110 1604.5L115 1604.5L120 1604.4L125 1604.4L130 1604.3L135 1604.2L140 1604.1L145 1604L150 1603.9L155 1603.8L160 1603.7L165 1603.6L170 1603.4L175 1603.3L180 1603.1L185 1603L190 1602.8L195 1602.6L200 1602.5L205 1602.3L210 1602.1L215 1601.9L220 1601.7L225 1601.5L230 1601.3L234.9 1601L239.9 1600.8L244.9 1600.5L249.9 1600.2L254.9 1599.9L259.9 1599.6L264.9 1599.2L269.9 1598.9L274.9 1598.5L279.9 1598.2L284.8 1597.8L289.8 1597.4L294.8 1597L299.8 1596.6L304.8 1596.1L309.7 1595.7L314.7 1595.1L319.7 1594.6L324.7 1594L329.6 1593.4L334.6 1592.8L339.5 1592.2L344.5 1591.6L349.5 1590.9L354.4 1590.3L359.4 1589.6L364.3 1589L369.3 1588.3L374.3 1587.7L379.2 1587.1L384.2 1586.5L389.1 1585.9L394.1 1585.4L399.1 1584.8L404.1 1584.3L409 1583.7L414 1583.2L419 1582.7L423.9 1582.1L428.9 1581.6L433.9 1581L438.8 1580.4L443.8 1579.7L448.8 1579.1L453.7 1578.4L458.7 1577.7L463.6 1576.9L468.5 1576.1L473.4 1575.2L478.3 1574.1L483.1 1572.8L487.9 1571.3L492.7 1569.9L497.6 1568.6L502.5 1567.6L507.4 1566.7L512.3 1565.9L517.3 1565.2L522.2 1564.4L527.2 1563.8L532.1 1563L537 1562.2L542 1561.4L546.9 1560.4L551.7 1559.2L556.5 1557.9L561.3 1556.3L566 1554.7L570.8 1553.1L575.5 1551.6L580.3 1550.1L585.1 1548.7L589.9 1547.3L594.7 1546L599.5 1544.6L604.3 1543.2L609.1 1541.9L614 1540.5L618.7 1539L623.5 1537.5L628.3 1536L633 1534.4L637.7 1532.8L642.4 1531.1L647.2 1529.4L651.9 1527.7L656.5 1526L661.2 1524.2L665.9 1522.4L670.5 1520.5L675.2 1518.7L679.8 1516.7L684.4 1514.8L689 1512.8L693.6 1510.8L698.1 1508.8L702.7 1506.7L707.2 1504.6L711.7 1502.4L716.2 1500.2L720.7 1498L725.2 1495.8L729.6 1493.5L734 1491.2L738.4 1488.8L742.8 1486.4L747.2 1484L751.5 1481.5L755.9 1479L760.2 1476.5L764.5 1474L768.8 1471.4L773 1468.8L777.3 1466.1L781.5 1463.5L785.7 1460.7L789.9 1458L794.1 1455.2L798.2 1452.4L802.2 1449.4L806.2 1446.5L810.2 1443.4L814.1 1440.3L817.9 1437L821.6 1433.7L825.3 1430.3L828.9 1426.8L832.4 1423.2L835.8 1419.6L839.1 1415.8L842.3 1412L845.4 1408.1L848.4 1404.1L851.4 1400.1L854.2 1395.9L857 1391.8L859.6 1387.5L862.2 1383.3L864.7 1378.9L867.1 1374.6L869.5 1370.1L871.8 1365.7L874.1 1361.2L876.3 1356.8L878.5 1352.3L880.8 1347.9L883.2 1343.4L885.6 1339.1L888.1 1334.7L890.7 1330.4L893.3 1326.2L896.1 1322.1L898.9 1317.9L901.9 1313.9L904.9 1309.9L907.9 1305.9L911 1302L914.2 1298.1L917.3 1294.3L920.5 1290.4L923.6 1286.5L926.7 1282.5L929.7 1278.6L932.7 1274.6L935.7 1270.6L938.7 1266.6L941.7 1262.5L944.6 1258.5L947.5 1254.4L950.3 1250.3L953.2 1246.2L956 1242L958.8 1237.9L961.6 1233.7L964.3 1229.6L967.1 1225.4L969.8 1221.2L972.4 1216.9L975.1 1212.7L977.8 1208.5L980.4 1204.2L983 1200L985.6 1195.7L988.2 1191.4L990.7 1187.1L993.3 1182.8L995.8 1178.5L998.3 1174.2L1000.8 1169.8L1003.3 1165.5L1005.7 1161.1L1008.2 1156.8L1010.6 1152.4L1013 1148L1015.5 1143.6L1017.8 1139.3L1020.2 1134.9L1022.6 1130.5L1024.9 1126L1027.3 1121.6L1029.6 1117.2L1031.9 1112.8L1034.3 1108.3L1036.6 1103.9L1038.8 1099.5L1041.1 1095L1043.4 1090.6L1045.6 1086.1L1047.9 1081.6L1050.1 1077.2L1052.4 1072.7L1054.6 1068.2L1056.8 1063.7L1059 1059.2L1061.2 1054.7L1063.4 1050.2L1065.5 1045.7L1067.7 1041.2L1069.9 1036.7L1072 1032.2L1074.2 1027.7L1076.3 1023.2L1078.4 1018.6L1080.5 1014.1L1082.6 1009.6L1084.7 1005L1086.8 1000.5L1088.9 995.9L1091 991.4L1093 986.8L1095.1 982.3L1097.1 977.7L1099.2 973.1L1101.2 968.6L1103.2 964L1105.2 959.4L1107.2 954.8L1109.2 950.3L1111.2 945.7L1113.2 941.1L1115.2 936.5L1117.2 931.9L1119.2 927.3L1121.1 922.7L1123.1 918.1L1125 913.5L1126.9 908.9L1128.9 904.3L1130.8 899.7L1132.7 895L1134.6 890.4L1136.6 885.8L1138.5 881.2L1140.3 876.6L1142.2 871.9L1144.1 867.3L1146 862.7L1147.9 858L1149.7 853.4L1151.6 848.7L1153.4 844.1L1155.3 839.5L1157.1 834.8L1159 830.2L1160.8 825.5L1162.6 820.9L1164.5 816.2L1166.3 811.5L1168.1 806.9L1169.9 802.2L1171.7 797.5L1173.5 792.9L1175.3 788.2L1177.1 783.5L1178.9 778.9L1180.6 774.2L1182.4 769.5L1184.2 764.9L1185.9 760.2L1187.7 755.5L1189.5 750.8L1191.2 746.1L1193 741.4L1194.7 736.8L1196.4 732.1L1198.2 727.4L1199.9 722.7L1201.6 718L1203.4 713.3L1205.1 708.6L1206.8 703.9L1208.5 699.2L1210.2 694.5L1211.9 689.8L1213.6 685.1L1215.3 680.4L1217 675.7L1218.7 671L1220.4 666.3L1222.1 661.6L1223.8 656.9L1225.5 652.2L1227.2 647.5L1228.8 642.8L1230.5 638.1L1232.2 633.3L1233.8 628.6L1235.5 623.9L1237.2 619.2L1238.8 614.5L1240.5 609.8L1242.2 605.1L1243.8 600.3L1245.5 595.6L1247.1 590.9L1248.8 586.2L1250.4 581.5L1252.1 576.7L1253.7 572L1255.4 567.3L1257 562.6L1258.7 557.8L1260.3 553.1L1261.9 548.4L1263.6 543.7L1265.2 538.9L1266.8 534.2L1268.5 529.5L1270.1 524.8L1271.7 520L1273.3 515.3L1275 510.6L1276.6 505.9L1278.2 501.1L1279.8 496.4L1281.5 491.7L1283.1 486.9L1284.7 482.2L1286.3 477.5L1287.9 472.7L1289.6 468L1291.2 463.3L1292.8 458.6L1294.4 453.8L1296 449.1L1297.6 444.4L1299.2 439.6L1300.8 434.9L1302.5 430.2L1304.1 425.4L1305.7 420.7L1307.3 416L1308.9 411.2L1310.5 406.5L1312.1 401.8L1313.7 397L1315.4 392.3L1317 387.6L1318.6 382.8L1320.2 378.1L1321.8 373.4L1323.5 368.6L1325.1 363.9L1326.7 359.2L1328.4 354.5L1330 349.7L1331.6 345L1333.3 340.3L1335 335.6L1336.6 330.9L1338.3 326.2L1340 321.5L1341.7 316.8L1343.4 312.1L1345.2 307.4L1346.9 302.7L1348.6 298L1350.4 293.3L1352.2 288.6L1354 284L1355.8 279.3L1357.6 274.7L1359.5 270L1361.4 265.4L1363.3 260.8L1365.2 256.2L1367.1 251.5L1369.1 247L1371.1 242.4L1373.2 237.8L1375.2 233.2L1377.3 228.7L1379.4 224.2L1381.6 219.7L1383.7 215.2L1385.9 210.7L1388.2 206.2L1390.4 201.7L1392.7 197.3L1394.9 192.8L1397.2 188.4L1399.6 183.9L1401.9 179.5L1404.2 175.1L1406.6 170.7L1409 166.3L1411.4 161.9L1413.7 157.5L1416.2 153.1L1418.6 148.7L1421 144.4L1423.4 140L1425.9 135.7L1428.4 131.3L1430.9 127L1433.4 122.7L1436 118.4L1438.7 114.2L1441.4 110L1444.2 105.8L1447.1 101.8L1450.1 97.8L1453.3 93.9L1456.6 90.1L1460 86.6L1463.7 83.2L1467.6 80L1471.7 77.2L1476.1 74.7L1480.6 72.6L1485.3 70.9L1490.1 69.7L1495.1 68.9L1500.1 68.6L1505.1 68.8L1510 69.4L1514.9 70.6L1519.6 72.1L1524.2 74.1L1528.6 76.4L1532.9 79.1L1536.9 82.1L1540.7 85.3L1544.4 88.7L1547.9 92.3L1551.2 96L1554.4 99.8L1557.5 103.8L1560.4 107.8L1563.3 111.9L1566 116.1L1568.7 120.3L1571.3 124.6L1573.8 128.9L1576.2 133.3L1578.6 137.7L1580.9 142.1L1583.2 146.6L1585.4 151.1L1587.6 155.6L1589.7 160.1L1591.8 164.6L1593.8 169.2L1595.8 173.8L1597.8 178.4L1599.8 183L1601.7 187.6L1603.6 192.2L1605.4 196.9L1607.3 201.5L1609.1 206.2L1610.9 210.8L1612.7 215.5L1614.4 220.2L1616.2 224.9L1617.9 229.6L1619.6 234.3L1621.2 239L1622.9 243.7L1624.5 248.4L1626.2 253.2L1627.8 257.9L1629.4 262.6L1631 267.4L1632.5 272.1L1634.1 276.9L1635.6 281.6L1637.2 286.4L1638.7 291.2L1640.2 295.9L1641.7 300.7L1643.2 305.5L1644.6 310.3L1646.1 315L1647.5 319.8L1649 324.6L1650.4 329.4L1651.8 334.2L1653.3 339L1654.7 343.8L1656.1 348.6L1657.4 353.4L1658.8 358.2L1660.2 363L1661.6 367.8L1662.9 372.6L1664.3 377.4L1665.6 382.3L1666.9 387.1L1668.3 391.9L1669.6 396.7L1670.9 401.5L1672.2 406.4L1673.5 411.2L1674.8 416L1676.1 420.9L1677.4 425.7L1678.7 430.5L1679.9 435.4L1681.2 440.2L1682.5 445L1683.7 449.9L1685 454.7L1686.2 459.6L1687.5 464.4L1688.7 469.2L1689.9 474.1L1691.2 478.9L1692.4 483.8L1693.6 488.6L1694.8 493.5L1696 498.3L1697.3 503.2L1698.5 508L1699.7 512.9L1700.9 517.7L1702 522.6L1703.2 527.5L1704.4 532.3L1705.6 537.2L1706.8 542L1708 546.9L1709.1 551.8L1710.3 556.6L1711.5 561.5L1712.6 566.3L1713.8 571.2L1714.9 576.1L1716.1 580.9L1717.2 585.8L1718.4 590.7L1719.5 595.5L1720.7 600.4L1721.8 605.3L1722.9 610.1L1724.1 615L1725.2 619.9L1726.3 624.7L1727.5 629.6L1728.6 634.5L1729.7 639.4L1730.8 644.2L1732 649.1L1733.1 654L1734.2 658.9L1735.3 663.7L1736.4 668.6L1737.5 673.5L1738.6 678.4L1739.7 683.2L1740.8 688.1L1741.9 693L1743 697.9L1744.1 702.7L1745.2 707.6L1746.3 712.5L1747.4 717.4L1748.5 722.3L1749.6 727.1L1750.7 732L1751.8 736.9L1752.9 741.8L1754 746.7L1755 751.5L1756.1 756.4L1757.2 761.3L1758.3 766.2L1759.4 771.1L1760.5 775.9L1761.5 780.8L1762.6 785.7L1763.7 790.6L1764.8 795.5L1765.9 800.4L1766.9 805.2L1768 810.1L1769.1 815L1770.2 819.9L1771.2 824.8L1772.3 829.7L1773.4 834.5L1774.5 839.4L1775.5 844.3L1776.6 849.2L1777.7 854.1L1778.7 859L1779.8 863.8L1780.9 868.7L1782 873.6L1783 878.5L1784.1 883.4L1785.2 888.3L1786.2 893.1L1787.3 898L1788.4 902.9L1789.5 907.8L1790.5 912.7L1791.6 917.6L1792.7 922.4L1793.8 927.3L1794.8 932.2L1795.9 937.1L1797 942L1798.1 946.9L1799.2 951.7L1800.2 956.6L1801.3 961.5L1802.4 966.4L1803.5 971.3L1804.6 976.1L1805.6 981L1806.7 985.9L1807.8 990.8L1808.9 995.7L1810 1000.5L1811.1 1005.4L1812.2 1010.3L1813.3 1015.2L1814.4 1020.1L1815.5 1024.9L1816.6 1029.8L1817.7 1034.7L1818.8 1039.6L1819.9 1044.4L1821 1049.3L1822.1 1054.2L1823.2 1059.1L1824.3 1063.9L1825.5 1068.8L1826.6 1073.7L1827.7 1078.6L1828.8 1083.4L1830 1088.3L1831.1 1093.2L1832.3 1098L1833.4 1102.9L1834.6 1107.8L1835.7 1112.6L1836.9 1117.5L1838 1122.4L1839.2 1127.2L1840.4 1132.1L1841.6 1136.9L1842.8 1141.8L1844 1146.7L1845.2 1151.5L1846.4 1156.4L1847.6 1161.2L1848.8 1166.1L1850 1170.9L1851.3 1175.7L1852.5 1180.6L1853.8 1185.4L1855 1190.3L1856.3 1195.1L1857.5 1199.9L1858.8 1204.8L1860.1 1209.6L1861.4 1214.4L1862.7 1219.3L1864.1 1224.1L1865.4 1228.9L1866.7 1233.7L1868.1 1238.5L1869.4 1243.3L1870.8 1248.1L1872.2 1253L1873.6 1257.8L1875 1262.5L1876.4 1267.3L1877.9 1272.1L1879.3 1276.9L1880.8 1281.7L1882.3 1286.5L1883.8 1291.2L1885.3 1296L1886.8 1300.8L1888.4 1305.5L1890 1310.3L1891.6 1315L1893.2 1319.7L1894.8 1324.5L1896.4 1329.2L1898.1 1333.9L1899.8 1338.6L1901.5 1343.3L1903.3 1348L1905 1352.7L1906.8 1357.3L1908.6 1362L1910.5 1366.6L1912.4 1371.3L1914.3 1375.9L1916.2 1380.5L1918.2 1385.1L1920.2 1389.7L1922.2 1394.2L1924.3 1398.8L1926.4 1403.3L1928.6 1407.8L1930.8 1412.3L1933 1416.8L1935.3 1421.3L1937.6 1425.7L1939.9 1430.1L1942.3 1434.5L1944.8 1438.9L1947.2 1443.2L1949.7 1447.5L1952.3 1451.8L1954.8 1456.1L1957.4 1460.4L1960.1 1464.6L1962.8 1468.9L1965.5 1473.1L1968.2 1477.2L1971 1481.4L1973.8 1485.5L1976.6 1489.7L1979.5 1493.8L1982.4 1497.8L1985.3 1501.9L1988.3 1505.9L1991.2 1509.9L1994.3 1513.9L1997.4 1517.9L2000.5 1521.8L2003.7 1525.6L2006.9 1529.4L2010.2 1533.2L2013.5 1537L2016.9 1540.6L2020.4 1544.2L2024 1547.7L2027.7 1551L2031.5 1554.3L2035.4 1557.4L2039.4 1560.4L2043.4 1563.3L2047.6 1566.1L2051.8 1568.7L2056.2 1571.2L2060.6 1573.5L2065.2 1575.6L2069.7 1577.7L2074.3 1579.8L2078.9 1581.7L2083.5 1583.6L2088.2 1585.4L2092.9 1587.1L2097.6 1588.7L2102.4 1590.2L2107.2 1591.6L2112 1592.8L2116.9 1594L2121.8 1595L2126.7 1596.1L2131.6 1597.1L2136.5 1598L2141.4 1598.9L2146.3 1599.8L2151.2 1600.6L2156.2 1601.3L2161.1 1602L2166.1 1602.6L2171.1 1603L2176.1 1603.4L2181.1 1603.6L2186.1 1603.8L2191.1 1604L2196.1 1604.2L2201.1 1604.3L2206.1 1604.5L2211.1 1604.6L2216.1 1604.7L2221.1 1604.8L2226.1 1604.9L2231.1 1605L2236.1 1605L2238.5 1605.0"/>
</g>
<g filter="url(#b)">
<line x1="1882" y1="59.8" x2="2079" y2="59.8" stroke="#006400" stroke-width="15.0"/>
<line x1="1882" y1="163.0" x2="2079" y2="163.0" stroke="#008B00" stroke-width="15.0"/>
<line x1="1882" y1="266.2" x2="2079" y2="266.2" stroke="#718A00" stroke-width="15.0"/>
<line x1="1882" y1="474.8" x2="2079" y2="474.8" stroke="#D87A00" stroke-width="15.0"/>
<line x1="1882" y1="578.0" x2="2079" y2="578.0" stroke="#FBB500" stroke-width="15.0"/>
<line x1="1882" y1="682.1" x2="2079" y2="682.1" stroke="#FFFF00" stroke-width="15.0"/>
<text x="2091.1 2134.4 2154.7 2195.4 2236.0 2256.9" y="88.2" font-size="78">0.05 h</text>
<text x="2091.1 2134.4 2154.7 2195.4 2236.0 2256.9" y="191.4" font-size="78">0.15 h</text>
<rect x="2158.2" y="182.6" width="14.0" height="10.0" fill="#fff"/><rect x="2184.3" y="182.6" width="12.2" height="10.0" fill="#fff"/>
<text x="2091.1 2134.4 2154.7 2195.4 2236.0 2256.9" y="294.6" font-size="78">0.25 h</text>
<text x="1888" y="398.6" font-size="75" textLength="568.5" lengthAdjust="spacingAndGlyphs">chain-extension</text>
<text x="2091.1 2134.4 2154.7 2195.4 2236.0 2256.9" y="503.2" font-size="78">0.05 h</text>
<text x="2091.1 2134.4 2154.7 2196.0 2216.0" y="606.4" font-size="78">0.1 h</text>
<rect x="2158.2" y="597.6" width="14.0" height="10.0" fill="#fff"/><rect x="2184.3" y="597.6" width="12.2" height="10.0" fill="#fff"/>
<text x="2091.1 2134.4 2154.7 2195.4 2236.0 2256.9" y="709.7" font-size="78">0.17 h</text>
<rect x="2158.2" y="700.9" width="14.0" height="10.0" fill="#fff"/><rect x="2184.3" y="700.9" width="12.2" height="10.0" fill="#fff"/>
</g>
<g filter="url(#b)">
<rect x="18" y="1708" width="2254" height="4" fill="#d0d0d0"/>
<rect x="18" y="1712" width="2254" height="10" fill="#000"/>
<rect x="18.4" y="1712" width="9.4" height="22.5" fill="#000"/>
<rect x="163.6" y="1712" width="9.4" height="22.5" fill="#000"/>
<rect x="266.7" y="1712" width="9.4" height="22.5" fill="#000"/>
<rect x="346.6" y="1712" width="9.4" height="22.5" fill="#000"/>
<rect x="411.9" y="1712" width="9.4" height="22.5" fill="#000"/>
<rect x="467.1" y="1712" width="9.4" height="22.5" fill="#000"/>
<rect x="514.9" y="1712" width="9.4" height="22.5" fill="#000"/>
<rect x="557.1" y="1712" width="9.4" height="22.5" fill="#000"/>
<rect x="593.9" y="1712" width="11.2" height="37" fill="#000"/>
<rect x="843.0" y="1712" width="9.4" height="22.5" fill="#000"/>
<rect x="988.2" y="1712" width="9.4" height="22.5" fill="#000"/>
<rect x="1091.3" y="1712" width="9.4" height="22.5" fill="#000"/>
<rect x="1171.2" y="1712" width="9.4" height="22.5" fill="#000"/>
<rect x="1236.5" y="1712" width="9.4" height="22.5" fill="#000"/>
<rect x="1291.7" y="1712" width="9.4" height="22.5" fill="#000"/>
<rect x="1339.5" y="1712" width="9.4" height="22.5" fill="#000"/>
<rect x="1381.7" y="1712" width="9.4" height="22.5" fill="#000"/>
<rect x="1418.5" y="1712" width="11.2" height="37" fill="#000"/>
<rect x="1667.6" y="1712" width="9.4" height="22.5" fill="#000"/>
<rect x="1812.8" y="1712" width="9.4" height="22.5" fill="#000"/>
<rect x="1915.9" y="1712" width="9.4" height="22.5" fill="#000"/>
<rect x="1995.8" y="1712" width="9.4" height="22.5" fill="#000"/>
<rect x="2061.1" y="1712" width="9.4" height="22.5" fill="#000"/>
<rect x="2116.3" y="1712" width="9.4" height="22.5" fill="#000"/>
<rect x="2164.1" y="1712" width="9.4" height="22.5" fill="#000"/>
<rect x="2206.3" y="1712" width="9.4" height="22.5" fill="#000"/>
<rect x="2243.1" y="1712" width="11.2" height="37" fill="#000"/>
<text x="534.6 582.4" y="1857.3" font-size="97">10<tspan x="633.6" y="1822" font-size="69">4</tspan></text>
<rect x="539.0" y="1846.6" width="17.6" height="11.9" fill="#fff"/><rect x="571.2" y="1846.6" width="15.3" height="11.9" fill="#fff"/>
<text x="1359.2 1407.0" y="1857.3" font-size="97">10<tspan x="1458.2" y="1822" font-size="69">5</tspan></text>
<rect x="1363.6" y="1846.6" width="17.6" height="11.9" fill="#fff"/><rect x="1395.8" y="1846.6" width="15.3" height="11.9" fill="#fff"/>
<text x="2183.8 2231.6" y="1857.3" font-size="97">10<tspan x="2282.8" y="1822" font-size="69">6</tspan></text>
<rect x="2188.2" y="1846.6" width="17.6" height="11.9" fill="#fff"/><rect x="2220.4" y="1846.6" width="15.3" height="11.9" fill="#fff"/>
<text x="752.2 861.4 935.7 968.1 1031.5 1092.0 1163.2 1193.7 1264.6 1312.0 1344.3 1441.5 1511.3 1540.1 1605.2 1681.5" y="1956" font-size="122">molecular weight</text>
</g>
</svg></body></html>
